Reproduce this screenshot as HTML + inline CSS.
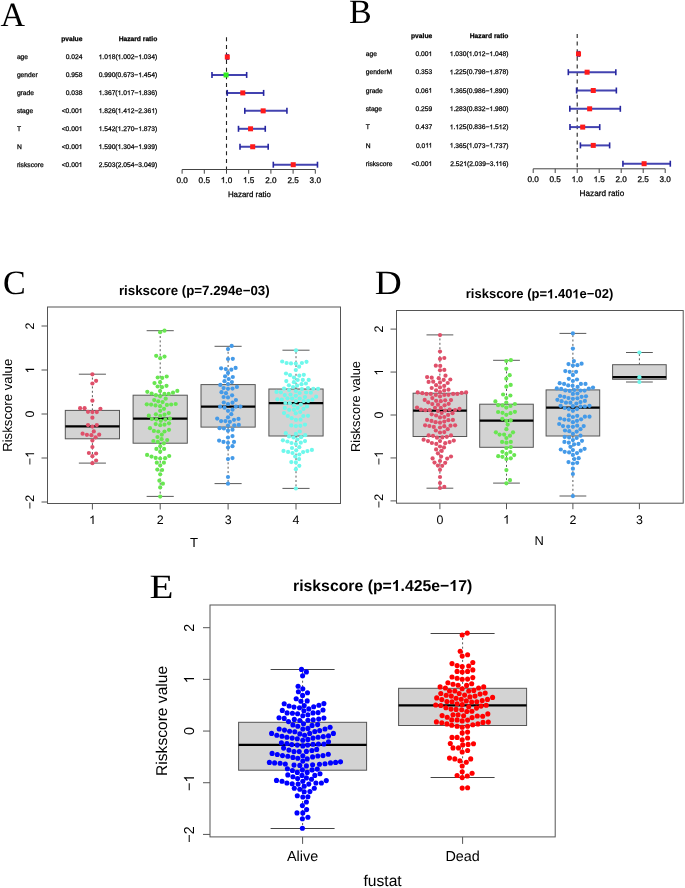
<!DOCTYPE html>
<html><head><meta charset="utf-8"><style>
html,body{margin:0;padding:0;background:#fff;}
body{width:685px;height:888px;overflow:hidden;font-family:"Liberation Sans", sans-serif;}
svg{display:block;will-change:transform;text-rendering:geometricPrecision;}
</style></head><body>
<svg width="685" height="888" viewBox="0 0 685 888">
<rect x="0" y="0" width="685" height="888" fill="#fff"/>
<text x="0.40" y="25.50" font-size="34" text-anchor="start" fill="#000" font-family='"Liberation Serif", serif'>A</text>
<text x="349.00" y="23.00" font-size="34" text-anchor="start" fill="#000" font-family='"Liberation Serif", serif'>B</text>
<text x="3.00" y="293.80" font-size="34" text-anchor="start" fill="#000" font-family='"Liberation Serif", serif'>C</text>
<text x="0" y="0" transform="translate(374.7 293.6) scale(1.10 1)" font-size="34" font-family='"Liberation Serif", serif'>D</text>
<text x="0" y="0" transform="translate(149.6 597.6) scale(1.15 1)" font-size="34" font-family='"Liberation Serif", serif'>E</text>
<text x="82.40" y="41.25" font-size="6.7" text-anchor="end" font-weight="bold" fill="#000" font-family='"Liberation Sans", sans-serif' stroke="#000" stroke-width="0.25">pvalue</text>
<text x="157.30" y="41.25" font-size="6.7" text-anchor="end" font-weight="bold" fill="#000" font-family='"Liberation Sans", sans-serif' stroke="#000" stroke-width="0.25">Hazard ratio</text>
<text x="16.90" y="59.20" font-size="6.7" text-anchor="start" fill="#000" font-family='"Liberation Sans", sans-serif' stroke="#000" stroke-width="0.25">age</text>
<text x="82.40" y="59.20" font-size="6.7" text-anchor="end" fill="#000" font-family='"Liberation Sans", sans-serif' stroke="#000" stroke-width="0.25">0.024</text>
<g>
<path transform="translate(98.63 59.20) scale(0.00327 -0.00327)" d="M763 0H583V1120Q518 1060 412 1000Q307 940 223 910V1080Q374 1150 487 1250Q600 1350 647 1440H763Z" fill="#000" stroke="#000" stroke-width="0.25" vector-effect="non-scaling-stroke"/>
<text x="102.35" y="59.20" font-size="6.7" text-anchor="start" fill="#000" font-family='"Liberation Sans", sans-serif' stroke="#000" stroke-width="0.25">.0</text>
<path transform="translate(107.94 59.20) scale(0.00327 -0.00327)" d="M763 0H583V1120Q518 1060 412 1000Q307 940 223 910V1080Q374 1150 487 1250Q600 1350 647 1440H763Z" fill="#000" stroke="#000" stroke-width="0.25" vector-effect="non-scaling-stroke"/>
<text x="111.67" y="59.20" font-size="6.7" text-anchor="start" fill="#000" font-family='"Liberation Sans", sans-serif' stroke="#000" stroke-width="0.25">8(</text>
<path transform="translate(117.62 59.20) scale(0.00327 -0.00327)" d="M763 0H583V1120Q518 1060 412 1000Q307 940 223 910V1080Q374 1150 487 1250Q600 1350 647 1440H763Z" fill="#000" stroke="#000" stroke-width="0.25" vector-effect="non-scaling-stroke"/>
<text x="121.35" y="59.20" font-size="6.7" text-anchor="start" fill="#000" font-family='"Liberation Sans", sans-serif' stroke="#000" stroke-width="0.25">.002−</text>
<path transform="translate(138.30 59.20) scale(0.00327 -0.00327)" d="M763 0H583V1120Q518 1060 412 1000Q307 940 223 910V1080Q374 1150 487 1250Q600 1350 647 1440H763Z" fill="#000" stroke="#000" stroke-width="0.25" vector-effect="non-scaling-stroke"/>
<text x="142.03" y="59.20" font-size="6.7" text-anchor="start" fill="#000" font-family='"Liberation Sans", sans-serif' stroke="#000" stroke-width="0.25">.034)</text>
</g>
<text x="16.90" y="77.15" font-size="6.7" text-anchor="start" fill="#000" font-family='"Liberation Sans", sans-serif' stroke="#000" stroke-width="0.25">gender</text>
<text x="82.40" y="77.15" font-size="6.7" text-anchor="end" fill="#000" font-family='"Liberation Sans", sans-serif' stroke="#000" stroke-width="0.25">0.958</text>
<g>
<text x="98.63" y="77.15" font-size="6.7" text-anchor="start" fill="#000" font-family='"Liberation Sans", sans-serif' stroke="#000" stroke-width="0.25">0.990(0.673−</text>
<path transform="translate(138.30 77.15) scale(0.00327 -0.00327)" d="M763 0H583V1120Q518 1060 412 1000Q307 940 223 910V1080Q374 1150 487 1250Q600 1350 647 1440H763Z" fill="#000" stroke="#000" stroke-width="0.25" vector-effect="non-scaling-stroke"/>
<text x="142.03" y="77.15" font-size="6.7" text-anchor="start" fill="#000" font-family='"Liberation Sans", sans-serif' stroke="#000" stroke-width="0.25">.454)</text>
</g>
<text x="16.90" y="95.10" font-size="6.7" text-anchor="start" fill="#000" font-family='"Liberation Sans", sans-serif' stroke="#000" stroke-width="0.25">grade</text>
<text x="82.40" y="95.10" font-size="6.7" text-anchor="end" fill="#000" font-family='"Liberation Sans", sans-serif' stroke="#000" stroke-width="0.25">0.038</text>
<g>
<path transform="translate(98.63 95.10) scale(0.00327 -0.00327)" d="M763 0H583V1120Q518 1060 412 1000Q307 940 223 910V1080Q374 1150 487 1250Q600 1350 647 1440H763Z" fill="#000" stroke="#000" stroke-width="0.25" vector-effect="non-scaling-stroke"/>
<text x="102.35" y="95.10" font-size="6.7" text-anchor="start" fill="#000" font-family='"Liberation Sans", sans-serif' stroke="#000" stroke-width="0.25">.367(</text>
<path transform="translate(117.62 95.10) scale(0.00327 -0.00327)" d="M763 0H583V1120Q518 1060 412 1000Q307 940 223 910V1080Q374 1150 487 1250Q600 1350 647 1440H763Z" fill="#000" stroke="#000" stroke-width="0.25" vector-effect="non-scaling-stroke"/>
<text x="121.35" y="95.10" font-size="6.7" text-anchor="start" fill="#000" font-family='"Liberation Sans", sans-serif' stroke="#000" stroke-width="0.25">.0</text>
<path transform="translate(126.94 95.10) scale(0.00327 -0.00327)" d="M763 0H583V1120Q518 1060 412 1000Q307 940 223 910V1080Q374 1150 487 1250Q600 1350 647 1440H763Z" fill="#000" stroke="#000" stroke-width="0.25" vector-effect="non-scaling-stroke"/>
<text x="130.66" y="95.10" font-size="6.7" text-anchor="start" fill="#000" font-family='"Liberation Sans", sans-serif' stroke="#000" stroke-width="0.25">7−</text>
<path transform="translate(138.30 95.10) scale(0.00327 -0.00327)" d="M763 0H583V1120Q518 1060 412 1000Q307 940 223 910V1080Q374 1150 487 1250Q600 1350 647 1440H763Z" fill="#000" stroke="#000" stroke-width="0.25" vector-effect="non-scaling-stroke"/>
<text x="142.03" y="95.10" font-size="6.7" text-anchor="start" fill="#000" font-family='"Liberation Sans", sans-serif' stroke="#000" stroke-width="0.25">.836)</text>
</g>
<text x="16.90" y="113.05" font-size="6.7" text-anchor="start" fill="#000" font-family='"Liberation Sans", sans-serif' stroke="#000" stroke-width="0.25">stage</text>
<g>
<text x="61.72" y="113.05" font-size="6.7" text-anchor="start" fill="#000" font-family='"Liberation Sans", sans-serif' stroke="#000" stroke-width="0.25">&lt;0.00</text>
<path transform="translate(78.67 113.05) scale(0.00327 -0.00327)" d="M763 0H583V1120Q518 1060 412 1000Q307 940 223 910V1080Q374 1150 487 1250Q600 1350 647 1440H763Z" fill="#000" stroke="#000" stroke-width="0.25" vector-effect="non-scaling-stroke"/>
</g>
<g>
<path transform="translate(98.63 113.05) scale(0.00327 -0.00327)" d="M763 0H583V1120Q518 1060 412 1000Q307 940 223 910V1080Q374 1150 487 1250Q600 1350 647 1440H763Z" fill="#000" stroke="#000" stroke-width="0.25" vector-effect="non-scaling-stroke"/>
<text x="102.35" y="113.05" font-size="6.7" text-anchor="start" fill="#000" font-family='"Liberation Sans", sans-serif' stroke="#000" stroke-width="0.25">.826(</text>
<path transform="translate(117.62 113.05) scale(0.00327 -0.00327)" d="M763 0H583V1120Q518 1060 412 1000Q307 940 223 910V1080Q374 1150 487 1250Q600 1350 647 1440H763Z" fill="#000" stroke="#000" stroke-width="0.25" vector-effect="non-scaling-stroke"/>
<text x="121.35" y="113.05" font-size="6.7" text-anchor="start" fill="#000" font-family='"Liberation Sans", sans-serif' stroke="#000" stroke-width="0.25">.4</text>
<path transform="translate(126.94 113.05) scale(0.00327 -0.00327)" d="M763 0H583V1120Q518 1060 412 1000Q307 940 223 910V1080Q374 1150 487 1250Q600 1350 647 1440H763Z" fill="#000" stroke="#000" stroke-width="0.25" vector-effect="non-scaling-stroke"/>
<text x="130.66" y="113.05" font-size="6.7" text-anchor="start" fill="#000" font-family='"Liberation Sans", sans-serif' stroke="#000" stroke-width="0.25">2−2.36</text>
<path transform="translate(151.34 113.05) scale(0.00327 -0.00327)" d="M763 0H583V1120Q518 1060 412 1000Q307 940 223 910V1080Q374 1150 487 1250Q600 1350 647 1440H763Z" fill="#000" stroke="#000" stroke-width="0.25" vector-effect="non-scaling-stroke"/>
<text x="155.07" y="113.05" font-size="6.7" text-anchor="start" fill="#000" font-family='"Liberation Sans", sans-serif' stroke="#000" stroke-width="0.25">)</text>
</g>
<text x="16.90" y="131.00" font-size="6.7" text-anchor="start" fill="#000" font-family='"Liberation Sans", sans-serif' stroke="#000" stroke-width="0.25">T</text>
<g>
<text x="61.72" y="131.00" font-size="6.7" text-anchor="start" fill="#000" font-family='"Liberation Sans", sans-serif' stroke="#000" stroke-width="0.25">&lt;0.00</text>
<path transform="translate(78.67 131.00) scale(0.00327 -0.00327)" d="M763 0H583V1120Q518 1060 412 1000Q307 940 223 910V1080Q374 1150 487 1250Q600 1350 647 1440H763Z" fill="#000" stroke="#000" stroke-width="0.25" vector-effect="non-scaling-stroke"/>
</g>
<g>
<path transform="translate(98.63 131.00) scale(0.00327 -0.00327)" d="M763 0H583V1120Q518 1060 412 1000Q307 940 223 910V1080Q374 1150 487 1250Q600 1350 647 1440H763Z" fill="#000" stroke="#000" stroke-width="0.25" vector-effect="non-scaling-stroke"/>
<text x="102.35" y="131.00" font-size="6.7" text-anchor="start" fill="#000" font-family='"Liberation Sans", sans-serif' stroke="#000" stroke-width="0.25">.542(</text>
<path transform="translate(117.62 131.00) scale(0.00327 -0.00327)" d="M763 0H583V1120Q518 1060 412 1000Q307 940 223 910V1080Q374 1150 487 1250Q600 1350 647 1440H763Z" fill="#000" stroke="#000" stroke-width="0.25" vector-effect="non-scaling-stroke"/>
<text x="121.35" y="131.00" font-size="6.7" text-anchor="start" fill="#000" font-family='"Liberation Sans", sans-serif' stroke="#000" stroke-width="0.25">.270−</text>
<path transform="translate(138.30 131.00) scale(0.00327 -0.00327)" d="M763 0H583V1120Q518 1060 412 1000Q307 940 223 910V1080Q374 1150 487 1250Q600 1350 647 1440H763Z" fill="#000" stroke="#000" stroke-width="0.25" vector-effect="non-scaling-stroke"/>
<text x="142.03" y="131.00" font-size="6.7" text-anchor="start" fill="#000" font-family='"Liberation Sans", sans-serif' stroke="#000" stroke-width="0.25">.873)</text>
</g>
<text x="16.90" y="148.95" font-size="6.7" text-anchor="start" fill="#000" font-family='"Liberation Sans", sans-serif' stroke="#000" stroke-width="0.25">N</text>
<g>
<text x="61.72" y="148.95" font-size="6.7" text-anchor="start" fill="#000" font-family='"Liberation Sans", sans-serif' stroke="#000" stroke-width="0.25">&lt;0.00</text>
<path transform="translate(78.67 148.95) scale(0.00327 -0.00327)" d="M763 0H583V1120Q518 1060 412 1000Q307 940 223 910V1080Q374 1150 487 1250Q600 1350 647 1440H763Z" fill="#000" stroke="#000" stroke-width="0.25" vector-effect="non-scaling-stroke"/>
</g>
<g>
<path transform="translate(98.63 148.95) scale(0.00327 -0.00327)" d="M763 0H583V1120Q518 1060 412 1000Q307 940 223 910V1080Q374 1150 487 1250Q600 1350 647 1440H763Z" fill="#000" stroke="#000" stroke-width="0.25" vector-effect="non-scaling-stroke"/>
<text x="102.35" y="148.95" font-size="6.7" text-anchor="start" fill="#000" font-family='"Liberation Sans", sans-serif' stroke="#000" stroke-width="0.25">.590(</text>
<path transform="translate(117.62 148.95) scale(0.00327 -0.00327)" d="M763 0H583V1120Q518 1060 412 1000Q307 940 223 910V1080Q374 1150 487 1250Q600 1350 647 1440H763Z" fill="#000" stroke="#000" stroke-width="0.25" vector-effect="non-scaling-stroke"/>
<text x="121.35" y="148.95" font-size="6.7" text-anchor="start" fill="#000" font-family='"Liberation Sans", sans-serif' stroke="#000" stroke-width="0.25">.304−</text>
<path transform="translate(138.30 148.95) scale(0.00327 -0.00327)" d="M763 0H583V1120Q518 1060 412 1000Q307 940 223 910V1080Q374 1150 487 1250Q600 1350 647 1440H763Z" fill="#000" stroke="#000" stroke-width="0.25" vector-effect="non-scaling-stroke"/>
<text x="142.03" y="148.95" font-size="6.7" text-anchor="start" fill="#000" font-family='"Liberation Sans", sans-serif' stroke="#000" stroke-width="0.25">.939)</text>
</g>
<text x="16.90" y="166.90" font-size="6.7" text-anchor="start" fill="#000" font-family='"Liberation Sans", sans-serif' stroke="#000" stroke-width="0.25">riskscore</text>
<g>
<text x="61.72" y="166.90" font-size="6.7" text-anchor="start" fill="#000" font-family='"Liberation Sans", sans-serif' stroke="#000" stroke-width="0.25">&lt;0.00</text>
<path transform="translate(78.67 166.90) scale(0.00327 -0.00327)" d="M763 0H583V1120Q518 1060 412 1000Q307 940 223 910V1080Q374 1150 487 1250Q600 1350 647 1440H763Z" fill="#000" stroke="#000" stroke-width="0.25" vector-effect="non-scaling-stroke"/>
</g>
<text x="157.30" y="166.90" font-size="6.7" text-anchor="end" fill="#000" font-family='"Liberation Sans", sans-serif' stroke="#000" stroke-width="0.25">2.503(2.054−3.049)</text>
<line x1="226.50" y1="37.30" x2="226.50" y2="169.50" stroke="#222" stroke-width="1.1" stroke-dasharray="4,3.6" stroke-linecap="butt"/>
<line x1="226.59" y1="57.00" x2="228.01" y2="57.00" stroke="#4343b0" stroke-width="2" stroke-linecap="butt"/>
<line x1="226.59" y1="54.00" x2="226.59" y2="60.00" stroke="#2626a0" stroke-width="1.6" stroke-linecap="butt"/>
<line x1="228.01" y1="54.00" x2="228.01" y2="60.00" stroke="#2626a0" stroke-width="1.6" stroke-linecap="butt"/>
<rect x="224.80" y="54.50" width="5.00" height="5.00" fill="#ff1a1a" stroke="none" stroke-width="1"/>
<line x1="211.98" y1="74.95" x2="246.66" y2="74.95" stroke="#4343b0" stroke-width="2" stroke-linecap="butt"/>
<line x1="211.98" y1="71.95" x2="211.98" y2="77.95" stroke="#2626a0" stroke-width="1.6" stroke-linecap="butt"/>
<line x1="246.66" y1="71.95" x2="246.66" y2="77.95" stroke="#2626a0" stroke-width="1.6" stroke-linecap="butt"/>
<rect x="223.56" y="72.45" width="5.00" height="5.00" fill="#33ee22" stroke="none" stroke-width="1"/>
<line x1="227.25" y1="92.90" x2="263.62" y2="92.90" stroke="#4343b0" stroke-width="2" stroke-linecap="butt"/>
<line x1="227.25" y1="89.90" x2="227.25" y2="95.90" stroke="#2626a0" stroke-width="1.6" stroke-linecap="butt"/>
<line x1="263.62" y1="89.90" x2="263.62" y2="95.90" stroke="#2626a0" stroke-width="1.6" stroke-linecap="butt"/>
<rect x="240.29" y="90.40" width="5.00" height="5.00" fill="#ff1a1a" stroke="none" stroke-width="1"/>
<line x1="244.79" y1="110.85" x2="286.93" y2="110.85" stroke="#4343b0" stroke-width="2" stroke-linecap="butt"/>
<line x1="244.79" y1="107.85" x2="244.79" y2="113.85" stroke="#2626a0" stroke-width="1.6" stroke-linecap="butt"/>
<line x1="286.93" y1="107.85" x2="286.93" y2="113.85" stroke="#2626a0" stroke-width="1.6" stroke-linecap="butt"/>
<rect x="260.67" y="108.35" width="5.00" height="5.00" fill="#ff1a1a" stroke="none" stroke-width="1"/>
<line x1="238.49" y1="128.80" x2="265.26" y2="128.80" stroke="#4343b0" stroke-width="2" stroke-linecap="butt"/>
<line x1="238.49" y1="125.80" x2="238.49" y2="131.80" stroke="#2626a0" stroke-width="1.6" stroke-linecap="butt"/>
<line x1="265.26" y1="125.80" x2="265.26" y2="131.80" stroke="#2626a0" stroke-width="1.6" stroke-linecap="butt"/>
<rect x="248.06" y="126.30" width="5.00" height="5.00" fill="#ff1a1a" stroke="none" stroke-width="1"/>
<line x1="240.00" y1="146.75" x2="268.19" y2="146.75" stroke="#4343b0" stroke-width="2" stroke-linecap="butt"/>
<line x1="240.00" y1="143.75" x2="240.00" y2="149.75" stroke="#2626a0" stroke-width="1.6" stroke-linecap="butt"/>
<line x1="268.19" y1="143.75" x2="268.19" y2="149.75" stroke="#2626a0" stroke-width="1.6" stroke-linecap="butt"/>
<rect x="250.20" y="144.25" width="5.00" height="5.00" fill="#ff1a1a" stroke="none" stroke-width="1"/>
<line x1="273.30" y1="164.70" x2="317.48" y2="164.70" stroke="#4343b0" stroke-width="2" stroke-linecap="butt"/>
<line x1="273.30" y1="161.70" x2="273.30" y2="167.70" stroke="#2626a0" stroke-width="1.6" stroke-linecap="butt"/>
<line x1="317.48" y1="161.70" x2="317.48" y2="167.70" stroke="#2626a0" stroke-width="1.6" stroke-linecap="butt"/>
<rect x="290.73" y="162.20" width="5.00" height="5.00" fill="#ff1a1a" stroke="none" stroke-width="1"/>
<line x1="182.10" y1="169.50" x2="315.30" y2="169.50" stroke="#444" stroke-width="1" stroke-linecap="butt"/>
<line x1="182.10" y1="169.50" x2="182.10" y2="173.70" stroke="#444" stroke-width="1" stroke-linecap="butt"/>
<text x="182.10" y="182.80" font-size="8.2" text-anchor="middle" fill="#000" font-family='"Liberation Sans", sans-serif' stroke="#000" stroke-width="0.25">0.0</text>
<line x1="204.30" y1="169.50" x2="204.30" y2="173.70" stroke="#444" stroke-width="1" stroke-linecap="butt"/>
<text x="204.30" y="182.80" font-size="8.2" text-anchor="middle" fill="#000" font-family='"Liberation Sans", sans-serif' stroke="#000" stroke-width="0.25">0.5</text>
<line x1="226.50" y1="169.50" x2="226.50" y2="173.70" stroke="#444" stroke-width="1" stroke-linecap="butt"/>
<g>
<path transform="translate(220.80 182.80) scale(0.00400 -0.00400)" d="M763 0H583V1120Q518 1060 412 1000Q307 940 223 910V1080Q374 1150 487 1250Q600 1350 647 1440H763Z" fill="#000" stroke="#000" stroke-width="0.25" vector-effect="non-scaling-stroke"/>
<text x="225.36" y="182.80" font-size="8.2" text-anchor="start" fill="#000" font-family='"Liberation Sans", sans-serif' stroke="#000" stroke-width="0.25">.0</text>
</g>
<line x1="248.70" y1="169.50" x2="248.70" y2="173.70" stroke="#444" stroke-width="1" stroke-linecap="butt"/>
<g>
<path transform="translate(243.00 182.80) scale(0.00400 -0.00400)" d="M763 0H583V1120Q518 1060 412 1000Q307 940 223 910V1080Q374 1150 487 1250Q600 1350 647 1440H763Z" fill="#000" stroke="#000" stroke-width="0.25" vector-effect="non-scaling-stroke"/>
<text x="247.56" y="182.80" font-size="8.2" text-anchor="start" fill="#000" font-family='"Liberation Sans", sans-serif' stroke="#000" stroke-width="0.25">.5</text>
</g>
<line x1="270.90" y1="169.50" x2="270.90" y2="173.70" stroke="#444" stroke-width="1" stroke-linecap="butt"/>
<text x="270.90" y="182.80" font-size="8.2" text-anchor="middle" fill="#000" font-family='"Liberation Sans", sans-serif' stroke="#000" stroke-width="0.25">2.0</text>
<line x1="293.10" y1="169.50" x2="293.10" y2="173.70" stroke="#444" stroke-width="1" stroke-linecap="butt"/>
<text x="293.10" y="182.80" font-size="8.2" text-anchor="middle" fill="#000" font-family='"Liberation Sans", sans-serif' stroke="#000" stroke-width="0.25">2.5</text>
<line x1="315.30" y1="169.50" x2="315.30" y2="173.70" stroke="#444" stroke-width="1" stroke-linecap="butt"/>
<text x="315.30" y="182.80" font-size="8.2" text-anchor="middle" fill="#000" font-family='"Liberation Sans", sans-serif' stroke="#000" stroke-width="0.25">3.0</text>
<text x="249.40" y="196.60" font-size="7.9" text-anchor="middle" fill="#000" font-family='"Liberation Sans", sans-serif' stroke="#000" stroke-width="0.25">Hazard ratio</text>
<text x="432.20" y="37.80" font-size="6.7" text-anchor="end" font-weight="bold" fill="#000" font-family='"Liberation Sans", sans-serif' stroke="#000" stroke-width="0.25">pvalue</text>
<text x="508.40" y="37.80" font-size="6.7" text-anchor="end" font-weight="bold" fill="#000" font-family='"Liberation Sans", sans-serif' stroke="#000" stroke-width="0.25">Hazard ratio</text>
<text x="365.70" y="56.10" font-size="6.7" text-anchor="start" fill="#000" font-family='"Liberation Sans", sans-serif' stroke="#000" stroke-width="0.25">age</text>
<g>
<text x="415.43" y="56.10" font-size="6.7" text-anchor="start" fill="#000" font-family='"Liberation Sans", sans-serif' stroke="#000" stroke-width="0.25">0.00</text>
<path transform="translate(428.47 56.10) scale(0.00327 -0.00327)" d="M763 0H583V1120Q518 1060 412 1000Q307 940 223 910V1080Q374 1150 487 1250Q600 1350 647 1440H763Z" fill="#000" stroke="#000" stroke-width="0.25" vector-effect="non-scaling-stroke"/>
</g>
<g>
<path transform="translate(449.73 56.10) scale(0.00327 -0.00327)" d="M763 0H583V1120Q518 1060 412 1000Q307 940 223 910V1080Q374 1150 487 1250Q600 1350 647 1440H763Z" fill="#000" stroke="#000" stroke-width="0.25" vector-effect="non-scaling-stroke"/>
<text x="453.45" y="56.10" font-size="6.7" text-anchor="start" fill="#000" font-family='"Liberation Sans", sans-serif' stroke="#000" stroke-width="0.25">.030(</text>
<path transform="translate(468.72 56.10) scale(0.00327 -0.00327)" d="M763 0H583V1120Q518 1060 412 1000Q307 940 223 910V1080Q374 1150 487 1250Q600 1350 647 1440H763Z" fill="#000" stroke="#000" stroke-width="0.25" vector-effect="non-scaling-stroke"/>
<text x="472.45" y="56.10" font-size="6.7" text-anchor="start" fill="#000" font-family='"Liberation Sans", sans-serif' stroke="#000" stroke-width="0.25">.0</text>
<path transform="translate(478.04 56.10) scale(0.00327 -0.00327)" d="M763 0H583V1120Q518 1060 412 1000Q307 940 223 910V1080Q374 1150 487 1250Q600 1350 647 1440H763Z" fill="#000" stroke="#000" stroke-width="0.25" vector-effect="non-scaling-stroke"/>
<text x="481.76" y="56.10" font-size="6.7" text-anchor="start" fill="#000" font-family='"Liberation Sans", sans-serif' stroke="#000" stroke-width="0.25">2−</text>
<path transform="translate(489.40 56.10) scale(0.00327 -0.00327)" d="M763 0H583V1120Q518 1060 412 1000Q307 940 223 910V1080Q374 1150 487 1250Q600 1350 647 1440H763Z" fill="#000" stroke="#000" stroke-width="0.25" vector-effect="non-scaling-stroke"/>
<text x="493.13" y="56.10" font-size="6.7" text-anchor="start" fill="#000" font-family='"Liberation Sans", sans-serif' stroke="#000" stroke-width="0.25">.048)</text>
</g>
<text x="365.70" y="74.40" font-size="6.7" text-anchor="start" fill="#000" font-family='"Liberation Sans", sans-serif' stroke="#000" stroke-width="0.25">genderM</text>
<text x="432.20" y="74.40" font-size="6.7" text-anchor="end" fill="#000" font-family='"Liberation Sans", sans-serif' stroke="#000" stroke-width="0.25">0.353</text>
<g>
<path transform="translate(449.73 74.40) scale(0.00327 -0.00327)" d="M763 0H583V1120Q518 1060 412 1000Q307 940 223 910V1080Q374 1150 487 1250Q600 1350 647 1440H763Z" fill="#000" stroke="#000" stroke-width="0.25" vector-effect="non-scaling-stroke"/>
<text x="453.45" y="74.40" font-size="6.7" text-anchor="start" fill="#000" font-family='"Liberation Sans", sans-serif' stroke="#000" stroke-width="0.25">.225(0.798−</text>
<path transform="translate(489.40 74.40) scale(0.00327 -0.00327)" d="M763 0H583V1120Q518 1060 412 1000Q307 940 223 910V1080Q374 1150 487 1250Q600 1350 647 1440H763Z" fill="#000" stroke="#000" stroke-width="0.25" vector-effect="non-scaling-stroke"/>
<text x="493.13" y="74.40" font-size="6.7" text-anchor="start" fill="#000" font-family='"Liberation Sans", sans-serif' stroke="#000" stroke-width="0.25">.878)</text>
</g>
<text x="365.70" y="92.70" font-size="6.7" text-anchor="start" fill="#000" font-family='"Liberation Sans", sans-serif' stroke="#000" stroke-width="0.25">grade</text>
<g>
<text x="415.43" y="92.70" font-size="6.7" text-anchor="start" fill="#000" font-family='"Liberation Sans", sans-serif' stroke="#000" stroke-width="0.25">0.06</text>
<path transform="translate(428.47 92.70) scale(0.00327 -0.00327)" d="M763 0H583V1120Q518 1060 412 1000Q307 940 223 910V1080Q374 1150 487 1250Q600 1350 647 1440H763Z" fill="#000" stroke="#000" stroke-width="0.25" vector-effect="non-scaling-stroke"/>
</g>
<g>
<path transform="translate(449.73 92.70) scale(0.00327 -0.00327)" d="M763 0H583V1120Q518 1060 412 1000Q307 940 223 910V1080Q374 1150 487 1250Q600 1350 647 1440H763Z" fill="#000" stroke="#000" stroke-width="0.25" vector-effect="non-scaling-stroke"/>
<text x="453.45" y="92.70" font-size="6.7" text-anchor="start" fill="#000" font-family='"Liberation Sans", sans-serif' stroke="#000" stroke-width="0.25">.365(0.986−</text>
<path transform="translate(489.40 92.70) scale(0.00327 -0.00327)" d="M763 0H583V1120Q518 1060 412 1000Q307 940 223 910V1080Q374 1150 487 1250Q600 1350 647 1440H763Z" fill="#000" stroke="#000" stroke-width="0.25" vector-effect="non-scaling-stroke"/>
<text x="493.13" y="92.70" font-size="6.7" text-anchor="start" fill="#000" font-family='"Liberation Sans", sans-serif' stroke="#000" stroke-width="0.25">.890)</text>
</g>
<text x="365.70" y="111.00" font-size="6.7" text-anchor="start" fill="#000" font-family='"Liberation Sans", sans-serif' stroke="#000" stroke-width="0.25">stage</text>
<text x="432.20" y="111.00" font-size="6.7" text-anchor="end" fill="#000" font-family='"Liberation Sans", sans-serif' stroke="#000" stroke-width="0.25">0.259</text>
<g>
<path transform="translate(449.73 111.00) scale(0.00327 -0.00327)" d="M763 0H583V1120Q518 1060 412 1000Q307 940 223 910V1080Q374 1150 487 1250Q600 1350 647 1440H763Z" fill="#000" stroke="#000" stroke-width="0.25" vector-effect="non-scaling-stroke"/>
<text x="453.45" y="111.00" font-size="6.7" text-anchor="start" fill="#000" font-family='"Liberation Sans", sans-serif' stroke="#000" stroke-width="0.25">.283(0.832−</text>
<path transform="translate(489.40 111.00) scale(0.00327 -0.00327)" d="M763 0H583V1120Q518 1060 412 1000Q307 940 223 910V1080Q374 1150 487 1250Q600 1350 647 1440H763Z" fill="#000" stroke="#000" stroke-width="0.25" vector-effect="non-scaling-stroke"/>
<text x="493.13" y="111.00" font-size="6.7" text-anchor="start" fill="#000" font-family='"Liberation Sans", sans-serif' stroke="#000" stroke-width="0.25">.980)</text>
</g>
<text x="365.70" y="129.30" font-size="6.7" text-anchor="start" fill="#000" font-family='"Liberation Sans", sans-serif' stroke="#000" stroke-width="0.25">T</text>
<text x="432.20" y="129.30" font-size="6.7" text-anchor="end" fill="#000" font-family='"Liberation Sans", sans-serif' stroke="#000" stroke-width="0.25">0.437</text>
<g>
<path transform="translate(449.73 129.30) scale(0.00327 -0.00327)" d="M763 0H583V1120Q518 1060 412 1000Q307 940 223 910V1080Q374 1150 487 1250Q600 1350 647 1440H763Z" fill="#000" stroke="#000" stroke-width="0.25" vector-effect="non-scaling-stroke"/>
<text x="453.45" y="129.30" font-size="6.7" text-anchor="start" fill="#000" font-family='"Liberation Sans", sans-serif' stroke="#000" stroke-width="0.25">.</text>
<path transform="translate(455.31 129.30) scale(0.00327 -0.00327)" d="M763 0H583V1120Q518 1060 412 1000Q307 940 223 910V1080Q374 1150 487 1250Q600 1350 647 1440H763Z" fill="#000" stroke="#000" stroke-width="0.25" vector-effect="non-scaling-stroke"/>
<text x="459.04" y="129.30" font-size="6.7" text-anchor="start" fill="#000" font-family='"Liberation Sans", sans-serif' stroke="#000" stroke-width="0.25">25(0.836−</text>
<path transform="translate(489.40 129.30) scale(0.00327 -0.00327)" d="M763 0H583V1120Q518 1060 412 1000Q307 940 223 910V1080Q374 1150 487 1250Q600 1350 647 1440H763Z" fill="#000" stroke="#000" stroke-width="0.25" vector-effect="non-scaling-stroke"/>
<text x="493.13" y="129.30" font-size="6.7" text-anchor="start" fill="#000" font-family='"Liberation Sans", sans-serif' stroke="#000" stroke-width="0.25">.5</text>
<path transform="translate(498.72 129.30) scale(0.00327 -0.00327)" d="M763 0H583V1120Q518 1060 412 1000Q307 940 223 910V1080Q374 1150 487 1250Q600 1350 647 1440H763Z" fill="#000" stroke="#000" stroke-width="0.25" vector-effect="non-scaling-stroke"/>
<text x="502.44" y="129.30" font-size="6.7" text-anchor="start" fill="#000" font-family='"Liberation Sans", sans-serif' stroke="#000" stroke-width="0.25">2)</text>
</g>
<text x="365.70" y="147.60" font-size="6.7" text-anchor="start" fill="#000" font-family='"Liberation Sans", sans-serif' stroke="#000" stroke-width="0.25">N</text>
<g>
<text x="415.93" y="147.60" font-size="6.7" text-anchor="start" fill="#000" font-family='"Liberation Sans", sans-serif' stroke="#000" stroke-width="0.25">0.0</text>
<path transform="translate(425.24 147.60) scale(0.00327 -0.00327)" d="M763 0H583V1120Q518 1060 412 1000Q307 940 223 910V1080Q374 1150 487 1250Q600 1350 647 1440H763Z" fill="#000" stroke="#000" stroke-width="0.25" vector-effect="non-scaling-stroke"/>
<path transform="translate(428.47 147.60) scale(0.00327 -0.00327)" d="M763 0H583V1120Q518 1060 412 1000Q307 940 223 910V1080Q374 1150 487 1250Q600 1350 647 1440H763Z" fill="#000" stroke="#000" stroke-width="0.25" vector-effect="non-scaling-stroke"/>
</g>
<g>
<path transform="translate(449.73 147.60) scale(0.00327 -0.00327)" d="M763 0H583V1120Q518 1060 412 1000Q307 940 223 910V1080Q374 1150 487 1250Q600 1350 647 1440H763Z" fill="#000" stroke="#000" stroke-width="0.25" vector-effect="non-scaling-stroke"/>
<text x="453.45" y="147.60" font-size="6.7" text-anchor="start" fill="#000" font-family='"Liberation Sans", sans-serif' stroke="#000" stroke-width="0.25">.365(</text>
<path transform="translate(468.72 147.60) scale(0.00327 -0.00327)" d="M763 0H583V1120Q518 1060 412 1000Q307 940 223 910V1080Q374 1150 487 1250Q600 1350 647 1440H763Z" fill="#000" stroke="#000" stroke-width="0.25" vector-effect="non-scaling-stroke"/>
<text x="472.45" y="147.60" font-size="6.7" text-anchor="start" fill="#000" font-family='"Liberation Sans", sans-serif' stroke="#000" stroke-width="0.25">.073−</text>
<path transform="translate(489.40 147.60) scale(0.00327 -0.00327)" d="M763 0H583V1120Q518 1060 412 1000Q307 940 223 910V1080Q374 1150 487 1250Q600 1350 647 1440H763Z" fill="#000" stroke="#000" stroke-width="0.25" vector-effect="non-scaling-stroke"/>
<text x="493.13" y="147.60" font-size="6.7" text-anchor="start" fill="#000" font-family='"Liberation Sans", sans-serif' stroke="#000" stroke-width="0.25">.737)</text>
</g>
<text x="365.70" y="165.90" font-size="6.7" text-anchor="start" fill="#000" font-family='"Liberation Sans", sans-serif' stroke="#000" stroke-width="0.25">riskscore</text>
<g>
<text x="411.52" y="165.90" font-size="6.7" text-anchor="start" fill="#000" font-family='"Liberation Sans", sans-serif' stroke="#000" stroke-width="0.25">&lt;0.00</text>
<path transform="translate(428.47 165.90) scale(0.00327 -0.00327)" d="M763 0H583V1120Q518 1060 412 1000Q307 940 223 910V1080Q374 1150 487 1250Q600 1350 647 1440H763Z" fill="#000" stroke="#000" stroke-width="0.25" vector-effect="non-scaling-stroke"/>
</g>
<g>
<text x="450.22" y="165.90" font-size="6.7" text-anchor="start" fill="#000" font-family='"Liberation Sans", sans-serif' stroke="#000" stroke-width="0.25">2.52</text>
<path transform="translate(463.26 165.90) scale(0.00327 -0.00327)" d="M763 0H583V1120Q518 1060 412 1000Q307 940 223 910V1080Q374 1150 487 1250Q600 1350 647 1440H763Z" fill="#000" stroke="#000" stroke-width="0.25" vector-effect="non-scaling-stroke"/>
<text x="466.99" y="165.90" font-size="6.7" text-anchor="start" fill="#000" font-family='"Liberation Sans", sans-serif' stroke="#000" stroke-width="0.25">(2.039−3.</text>
<path transform="translate(495.49 165.90) scale(0.00327 -0.00327)" d="M763 0H583V1120Q518 1060 412 1000Q307 940 223 910V1080Q374 1150 487 1250Q600 1350 647 1440H763Z" fill="#000" stroke="#000" stroke-width="0.25" vector-effect="non-scaling-stroke"/>
<path transform="translate(498.72 165.90) scale(0.00327 -0.00327)" d="M763 0H583V1120Q518 1060 412 1000Q307 940 223 910V1080Q374 1150 487 1250Q600 1350 647 1440H763Z" fill="#000" stroke="#000" stroke-width="0.25" vector-effect="non-scaling-stroke"/>
<text x="502.44" y="165.90" font-size="6.7" text-anchor="start" fill="#000" font-family='"Liberation Sans", sans-serif' stroke="#000" stroke-width="0.25">6)</text>
</g>
<line x1="577.20" y1="34.00" x2="577.20" y2="168.80" stroke="#222" stroke-width="1.1" stroke-dasharray="4,3.6" stroke-linecap="butt"/>
<line x1="577.73" y1="53.90" x2="579.31" y2="53.90" stroke="#4343b0" stroke-width="2" stroke-linecap="butt"/>
<line x1="577.73" y1="50.90" x2="577.73" y2="56.90" stroke="#2626a0" stroke-width="1.6" stroke-linecap="butt"/>
<line x1="579.31" y1="50.90" x2="579.31" y2="56.90" stroke="#2626a0" stroke-width="1.6" stroke-linecap="butt"/>
<rect x="576.02" y="51.40" width="5.00" height="5.00" fill="#ff1a1a" stroke="none" stroke-width="1"/>
<line x1="568.31" y1="72.20" x2="615.83" y2="72.20" stroke="#4343b0" stroke-width="2" stroke-linecap="butt"/>
<line x1="568.31" y1="69.20" x2="568.31" y2="75.20" stroke="#2626a0" stroke-width="1.6" stroke-linecap="butt"/>
<line x1="615.83" y1="69.20" x2="615.83" y2="75.20" stroke="#2626a0" stroke-width="1.6" stroke-linecap="butt"/>
<rect x="584.60" y="69.70" width="5.00" height="5.00" fill="#ff1a1a" stroke="none" stroke-width="1"/>
<line x1="576.58" y1="90.50" x2="616.36" y2="90.50" stroke="#4343b0" stroke-width="2" stroke-linecap="butt"/>
<line x1="576.58" y1="87.50" x2="576.58" y2="93.50" stroke="#2626a0" stroke-width="1.6" stroke-linecap="butt"/>
<line x1="616.36" y1="87.50" x2="616.36" y2="93.50" stroke="#2626a0" stroke-width="1.6" stroke-linecap="butt"/>
<rect x="590.76" y="88.00" width="5.00" height="5.00" fill="#ff1a1a" stroke="none" stroke-width="1"/>
<line x1="569.81" y1="108.80" x2="620.32" y2="108.80" stroke="#4343b0" stroke-width="2" stroke-linecap="butt"/>
<line x1="569.81" y1="105.80" x2="569.81" y2="111.80" stroke="#2626a0" stroke-width="1.6" stroke-linecap="butt"/>
<line x1="620.32" y1="105.80" x2="620.32" y2="111.80" stroke="#2626a0" stroke-width="1.6" stroke-linecap="butt"/>
<rect x="587.15" y="106.30" width="5.00" height="5.00" fill="#ff1a1a" stroke="none" stroke-width="1"/>
<line x1="569.98" y1="127.10" x2="599.73" y2="127.10" stroke="#4343b0" stroke-width="2" stroke-linecap="butt"/>
<line x1="569.98" y1="124.10" x2="569.98" y2="130.10" stroke="#2626a0" stroke-width="1.6" stroke-linecap="butt"/>
<line x1="599.73" y1="124.10" x2="599.73" y2="130.10" stroke="#2626a0" stroke-width="1.6" stroke-linecap="butt"/>
<rect x="580.20" y="124.60" width="5.00" height="5.00" fill="#ff1a1a" stroke="none" stroke-width="1"/>
<line x1="580.41" y1="145.40" x2="609.63" y2="145.40" stroke="#4343b0" stroke-width="2" stroke-linecap="butt"/>
<line x1="580.41" y1="142.40" x2="580.41" y2="148.40" stroke="#2626a0" stroke-width="1.6" stroke-linecap="butt"/>
<line x1="609.63" y1="142.40" x2="609.63" y2="148.40" stroke="#2626a0" stroke-width="1.6" stroke-linecap="butt"/>
<rect x="590.76" y="142.90" width="5.00" height="5.00" fill="#ff1a1a" stroke="none" stroke-width="1"/>
<line x1="622.92" y1="163.70" x2="670.30" y2="163.70" stroke="#4343b0" stroke-width="2" stroke-linecap="butt"/>
<line x1="622.92" y1="160.70" x2="622.92" y2="166.70" stroke="#2626a0" stroke-width="1.6" stroke-linecap="butt"/>
<line x1="670.30" y1="160.70" x2="670.30" y2="166.70" stroke="#2626a0" stroke-width="1.6" stroke-linecap="butt"/>
<rect x="641.62" y="161.20" width="5.00" height="5.00" fill="#ff1a1a" stroke="none" stroke-width="1"/>
<line x1="533.20" y1="168.80" x2="665.20" y2="168.80" stroke="#444" stroke-width="1" stroke-linecap="butt"/>
<line x1="533.20" y1="168.80" x2="533.20" y2="173.00" stroke="#444" stroke-width="1" stroke-linecap="butt"/>
<text x="533.20" y="182.10" font-size="8.2" text-anchor="middle" fill="#000" font-family='"Liberation Sans", sans-serif' stroke="#000" stroke-width="0.25">0.0</text>
<line x1="555.20" y1="168.80" x2="555.20" y2="173.00" stroke="#444" stroke-width="1" stroke-linecap="butt"/>
<text x="555.20" y="182.10" font-size="8.2" text-anchor="middle" fill="#000" font-family='"Liberation Sans", sans-serif' stroke="#000" stroke-width="0.25">0.5</text>
<line x1="577.20" y1="168.80" x2="577.20" y2="173.00" stroke="#444" stroke-width="1" stroke-linecap="butt"/>
<g>
<path transform="translate(571.50 182.10) scale(0.00400 -0.00400)" d="M763 0H583V1120Q518 1060 412 1000Q307 940 223 910V1080Q374 1150 487 1250Q600 1350 647 1440H763Z" fill="#000" stroke="#000" stroke-width="0.25" vector-effect="non-scaling-stroke"/>
<text x="576.06" y="182.10" font-size="8.2" text-anchor="start" fill="#000" font-family='"Liberation Sans", sans-serif' stroke="#000" stroke-width="0.25">.0</text>
</g>
<line x1="599.20" y1="168.80" x2="599.20" y2="173.00" stroke="#444" stroke-width="1" stroke-linecap="butt"/>
<g>
<path transform="translate(593.50 182.10) scale(0.00400 -0.00400)" d="M763 0H583V1120Q518 1060 412 1000Q307 940 223 910V1080Q374 1150 487 1250Q600 1350 647 1440H763Z" fill="#000" stroke="#000" stroke-width="0.25" vector-effect="non-scaling-stroke"/>
<text x="598.06" y="182.10" font-size="8.2" text-anchor="start" fill="#000" font-family='"Liberation Sans", sans-serif' stroke="#000" stroke-width="0.25">.5</text>
</g>
<line x1="621.20" y1="168.80" x2="621.20" y2="173.00" stroke="#444" stroke-width="1" stroke-linecap="butt"/>
<text x="621.20" y="182.10" font-size="8.2" text-anchor="middle" fill="#000" font-family='"Liberation Sans", sans-serif' stroke="#000" stroke-width="0.25">2.0</text>
<line x1="643.20" y1="168.80" x2="643.20" y2="173.00" stroke="#444" stroke-width="1" stroke-linecap="butt"/>
<text x="643.20" y="182.10" font-size="8.2" text-anchor="middle" fill="#000" font-family='"Liberation Sans", sans-serif' stroke="#000" stroke-width="0.25">2.5</text>
<line x1="665.20" y1="168.80" x2="665.20" y2="173.00" stroke="#444" stroke-width="1" stroke-linecap="butt"/>
<text x="665.20" y="182.10" font-size="8.2" text-anchor="middle" fill="#000" font-family='"Liberation Sans", sans-serif' stroke="#000" stroke-width="0.25">3.0</text>
<text x="601.90" y="196.10" font-size="8.2" text-anchor="middle" fill="#000" font-family='"Liberation Sans", sans-serif' stroke="#000" stroke-width="0.25">Hazard ratio</text>
<text x="194.30" y="294.80" font-size="13.3" text-anchor="middle" font-weight="bold" fill="#000" font-family='"Liberation Sans", sans-serif'>riskscore (p=7.294e−03)</text>
<line x1="92.40" y1="410.40" x2="92.40" y2="374.20" stroke="#5a5a5a" stroke-width="1" stroke-dasharray="2,2.4" stroke-linecap="butt"/>
<line x1="92.40" y1="438.80" x2="92.40" y2="463.10" stroke="#5a5a5a" stroke-width="1" stroke-dasharray="2,2.4" stroke-linecap="butt"/>
<line x1="78.85" y1="374.20" x2="105.95" y2="374.20" stroke="#5a5a5a" stroke-width="1" stroke-linecap="butt"/>
<line x1="78.85" y1="463.10" x2="105.95" y2="463.10" stroke="#5a5a5a" stroke-width="1" stroke-linecap="butt"/>
<rect x="65.30" y="410.40" width="54.20" height="28.40" fill="#d3d3d3" stroke="#555" stroke-width="1"/>
<line x1="65.30" y1="426.30" x2="119.50" y2="426.30" stroke="#000" stroke-width="2.2" stroke-linecap="butt"/>
<line x1="160.20" y1="395.20" x2="160.20" y2="330.70" stroke="#5a5a5a" stroke-width="1" stroke-dasharray="2,2.4" stroke-linecap="butt"/>
<line x1="160.20" y1="443.20" x2="160.20" y2="496.40" stroke="#5a5a5a" stroke-width="1" stroke-dasharray="2,2.4" stroke-linecap="butt"/>
<line x1="146.65" y1="330.70" x2="173.75" y2="330.70" stroke="#5a5a5a" stroke-width="1" stroke-linecap="butt"/>
<line x1="146.65" y1="496.40" x2="173.75" y2="496.40" stroke="#5a5a5a" stroke-width="1" stroke-linecap="butt"/>
<rect x="133.10" y="395.20" width="54.20" height="48.00" fill="#d3d3d3" stroke="#555" stroke-width="1"/>
<line x1="133.10" y1="418.70" x2="187.30" y2="418.70" stroke="#000" stroke-width="2.2" stroke-linecap="butt"/>
<line x1="228.10" y1="384.60" x2="228.10" y2="346.30" stroke="#5a5a5a" stroke-width="1" stroke-dasharray="2,2.4" stroke-linecap="butt"/>
<line x1="228.10" y1="427.10" x2="228.10" y2="483.60" stroke="#5a5a5a" stroke-width="1" stroke-dasharray="2,2.4" stroke-linecap="butt"/>
<line x1="214.55" y1="346.30" x2="241.65" y2="346.30" stroke="#5a5a5a" stroke-width="1" stroke-linecap="butt"/>
<line x1="214.55" y1="483.60" x2="241.65" y2="483.60" stroke="#5a5a5a" stroke-width="1" stroke-linecap="butt"/>
<rect x="201.00" y="384.60" width="54.20" height="42.50" fill="#d3d3d3" stroke="#555" stroke-width="1"/>
<line x1="201.00" y1="406.70" x2="255.20" y2="406.70" stroke="#000" stroke-width="2.2" stroke-linecap="butt"/>
<line x1="296.00" y1="389.00" x2="296.00" y2="350.20" stroke="#5a5a5a" stroke-width="1" stroke-dasharray="2,2.4" stroke-linecap="butt"/>
<line x1="296.00" y1="436.00" x2="296.00" y2="488.40" stroke="#5a5a5a" stroke-width="1" stroke-dasharray="2,2.4" stroke-linecap="butt"/>
<line x1="282.45" y1="350.20" x2="309.55" y2="350.20" stroke="#5a5a5a" stroke-width="1" stroke-linecap="butt"/>
<line x1="282.45" y1="488.40" x2="309.55" y2="488.40" stroke="#5a5a5a" stroke-width="1" stroke-linecap="butt"/>
<rect x="268.90" y="389.00" width="54.20" height="47.00" fill="#d3d3d3" stroke="#555" stroke-width="1"/>
<line x1="268.90" y1="403.20" x2="323.10" y2="403.20" stroke="#000" stroke-width="2.2" stroke-linecap="butt"/>
<circle cx="92.40" cy="374.30" r="2.1" fill="#df506a"/>
<circle cx="96.10" cy="380.80" r="2.1" fill="#df506a"/>
<circle cx="92.40" cy="383.50" r="2.1" fill="#df506a"/>
<circle cx="92.40" cy="400.70" r="2.1" fill="#df506a"/>
<circle cx="80.10" cy="408.20" r="2.1" fill="#df506a"/>
<circle cx="84.60" cy="408.20" r="2.1" fill="#df506a"/>
<circle cx="100.40" cy="408.80" r="2.1" fill="#df506a"/>
<circle cx="88.00" cy="411.80" r="2.1" fill="#df506a"/>
<circle cx="92.40" cy="412.10" r="2.1" fill="#df506a"/>
<circle cx="96.80" cy="412.10" r="2.1" fill="#df506a"/>
<circle cx="92.40" cy="417.70" r="2.1" fill="#df506a"/>
<circle cx="88.00" cy="425.10" r="2.1" fill="#df506a"/>
<circle cx="92.40" cy="426.60" r="2.1" fill="#df506a"/>
<circle cx="96.80" cy="425.10" r="2.1" fill="#df506a"/>
<circle cx="93.80" cy="431.40" r="2.1" fill="#df506a"/>
<circle cx="82.60" cy="433.70" r="2.1" fill="#df506a"/>
<circle cx="86.90" cy="434.80" r="2.1" fill="#df506a"/>
<circle cx="91.40" cy="435.20" r="2.1" fill="#df506a"/>
<circle cx="95.60" cy="437.30" r="2.1" fill="#df506a"/>
<circle cx="99.20" cy="434.70" r="2.1" fill="#df506a"/>
<circle cx="92.40" cy="440.60" r="2.1" fill="#df506a"/>
<circle cx="92.40" cy="447.00" r="2.1" fill="#df506a"/>
<circle cx="88.90" cy="453.00" r="2.1" fill="#df506a"/>
<circle cx="96.10" cy="453.50" r="2.1" fill="#df506a"/>
<circle cx="92.40" cy="456.20" r="2.1" fill="#df506a"/>
<circle cx="96.10" cy="460.50" r="2.1" fill="#df506a"/>
<circle cx="92.40" cy="463.20" r="2.1" fill="#df506a"/>
<circle cx="160.10" cy="332.20" r="2.1" fill="#68e651"/>
<circle cx="164.50" cy="330.70" r="2.1" fill="#68e651"/>
<circle cx="156.20" cy="355.80" r="2.1" fill="#68e651"/>
<circle cx="160.20" cy="358.20" r="2.1" fill="#68e651"/>
<circle cx="164.50" cy="356.60" r="2.1" fill="#68e651"/>
<circle cx="157.70" cy="377.50" r="2.1" fill="#68e651"/>
<circle cx="162.20" cy="377.90" r="2.1" fill="#68e651"/>
<circle cx="166.70" cy="376.50" r="2.1" fill="#68e651"/>
<circle cx="154.50" cy="383.10" r="2.1" fill="#68e651"/>
<circle cx="160.10" cy="382.20" r="2.1" fill="#68e651"/>
<circle cx="157.60" cy="386.50" r="2.1" fill="#68e651"/>
<circle cx="162.00" cy="387.20" r="2.1" fill="#68e651"/>
<circle cx="166.50" cy="385.80" r="2.1" fill="#68e651"/>
<circle cx="147.30" cy="391.80" r="2.1" fill="#68e651"/>
<circle cx="151.60" cy="393.50" r="2.1" fill="#68e651"/>
<circle cx="155.90" cy="395.20" r="2.1" fill="#68e651"/>
<circle cx="160.10" cy="391.10" r="2.1" fill="#68e651"/>
<circle cx="160.10" cy="396.30" r="2.1" fill="#68e651"/>
<circle cx="164.40" cy="393.90" r="2.1" fill="#68e651"/>
<circle cx="168.70" cy="393.90" r="2.1" fill="#68e651"/>
<circle cx="173.00" cy="392.70" r="2.1" fill="#68e651"/>
<circle cx="177.30" cy="390.90" r="2.1" fill="#68e651"/>
<circle cx="154.20" cy="400.10" r="2.1" fill="#68e651"/>
<circle cx="158.30" cy="401.30" r="2.1" fill="#68e651"/>
<circle cx="162.60" cy="402.10" r="2.1" fill="#68e651"/>
<circle cx="165.70" cy="398.70" r="2.1" fill="#68e651"/>
<circle cx="146.80" cy="404.30" r="2.1" fill="#68e651"/>
<circle cx="151.10" cy="404.60" r="2.1" fill="#68e651"/>
<circle cx="155.50" cy="405.40" r="2.1" fill="#68e651"/>
<circle cx="160.10" cy="406.20" r="2.1" fill="#68e651"/>
<circle cx="166.90" cy="404.90" r="2.1" fill="#68e651"/>
<circle cx="171.20" cy="404.50" r="2.1" fill="#68e651"/>
<circle cx="175.70" cy="404.00" r="2.1" fill="#68e651"/>
<circle cx="164.00" cy="408.80" r="2.1" fill="#68e651"/>
<circle cx="160.20" cy="410.80" r="2.1" fill="#68e651"/>
<circle cx="148.80" cy="415.70" r="2.1" fill="#68e651"/>
<circle cx="155.90" cy="414.30" r="2.1" fill="#68e651"/>
<circle cx="160.20" cy="415.90" r="2.1" fill="#68e651"/>
<circle cx="164.50" cy="414.70" r="2.1" fill="#68e651"/>
<circle cx="168.80" cy="413.10" r="2.1" fill="#68e651"/>
<circle cx="151.90" cy="419.00" r="2.1" fill="#68e651"/>
<circle cx="156.40" cy="419.50" r="2.1" fill="#68e651"/>
<circle cx="160.80" cy="420.80" r="2.1" fill="#68e651"/>
<circle cx="165.40" cy="419.60" r="2.1" fill="#68e651"/>
<circle cx="170.00" cy="418.60" r="2.1" fill="#68e651"/>
<circle cx="155.70" cy="424.10" r="2.1" fill="#68e651"/>
<circle cx="160.20" cy="425.20" r="2.1" fill="#68e651"/>
<circle cx="164.50" cy="424.70" r="2.1" fill="#68e651"/>
<circle cx="169.00" cy="423.30" r="2.1" fill="#68e651"/>
<circle cx="150.00" cy="428.20" r="2.1" fill="#68e651"/>
<circle cx="153.90" cy="430.90" r="2.1" fill="#68e651"/>
<circle cx="158.30" cy="431.50" r="2.1" fill="#68e651"/>
<circle cx="164.50" cy="431.50" r="2.1" fill="#68e651"/>
<circle cx="169.00" cy="429.80" r="2.1" fill="#68e651"/>
<circle cx="161.80" cy="434.70" r="2.1" fill="#68e651"/>
<circle cx="157.50" cy="437.00" r="2.1" fill="#68e651"/>
<circle cx="161.60" cy="439.20" r="2.1" fill="#68e651"/>
<circle cx="153.40" cy="441.00" r="2.1" fill="#68e651"/>
<circle cx="157.80" cy="441.90" r="2.1" fill="#68e651"/>
<circle cx="167.20" cy="440.10" r="2.1" fill="#68e651"/>
<circle cx="163.90" cy="443.30" r="2.1" fill="#68e651"/>
<circle cx="160.20" cy="446.20" r="2.1" fill="#68e651"/>
<circle cx="156.40" cy="448.90" r="2.1" fill="#68e651"/>
<circle cx="164.10" cy="448.90" r="2.1" fill="#68e651"/>
<circle cx="160.20" cy="451.70" r="2.1" fill="#68e651"/>
<circle cx="147.10" cy="454.90" r="2.1" fill="#68e651"/>
<circle cx="151.50" cy="456.60" r="2.1" fill="#68e651"/>
<circle cx="155.70" cy="457.90" r="2.1" fill="#68e651"/>
<circle cx="160.20" cy="458.50" r="2.1" fill="#68e651"/>
<circle cx="165.10" cy="458.20" r="2.1" fill="#68e651"/>
<circle cx="169.20" cy="456.00" r="2.1" fill="#68e651"/>
<circle cx="156.80" cy="462.70" r="2.1" fill="#68e651"/>
<circle cx="163.90" cy="462.70" r="2.1" fill="#68e651"/>
<circle cx="160.20" cy="465.40" r="2.1" fill="#68e651"/>
<circle cx="157.30" cy="469.60" r="2.1" fill="#68e651"/>
<circle cx="162.10" cy="470.00" r="2.1" fill="#68e651"/>
<circle cx="160.20" cy="474.30" r="2.1" fill="#68e651"/>
<circle cx="159.40" cy="480.70" r="2.1" fill="#68e651"/>
<circle cx="162.90" cy="483.70" r="2.1" fill="#68e651"/>
<circle cx="160.20" cy="487.40" r="2.1" fill="#68e651"/>
<circle cx="160.20" cy="496.60" r="2.1" fill="#68e651"/>
<circle cx="231.70" cy="345.90" r="2.1" fill="#449ae8"/>
<circle cx="228.00" cy="349.10" r="2.1" fill="#449ae8"/>
<circle cx="228.00" cy="359.00" r="2.1" fill="#449ae8"/>
<circle cx="232.80" cy="358.80" r="2.1" fill="#449ae8"/>
<circle cx="221.10" cy="368.30" r="2.1" fill="#449ae8"/>
<circle cx="225.80" cy="369.10" r="2.1" fill="#449ae8"/>
<circle cx="231.30" cy="369.70" r="2.1" fill="#449ae8"/>
<circle cx="235.60" cy="367.90" r="2.1" fill="#449ae8"/>
<circle cx="228.00" cy="372.90" r="2.1" fill="#449ae8"/>
<circle cx="225.10" cy="376.30" r="2.1" fill="#449ae8"/>
<circle cx="232.80" cy="377.00" r="2.1" fill="#449ae8"/>
<circle cx="228.70" cy="379.00" r="2.1" fill="#449ae8"/>
<circle cx="224.50" cy="381.20" r="2.1" fill="#449ae8"/>
<circle cx="231.90" cy="382.10" r="2.1" fill="#449ae8"/>
<circle cx="228.00" cy="384.10" r="2.1" fill="#449ae8"/>
<circle cx="220.30" cy="384.90" r="2.1" fill="#449ae8"/>
<circle cx="223.60" cy="388.10" r="2.1" fill="#449ae8"/>
<circle cx="228.00" cy="388.80" r="2.1" fill="#449ae8"/>
<circle cx="232.50" cy="388.60" r="2.1" fill="#449ae8"/>
<circle cx="236.90" cy="386.90" r="2.1" fill="#449ae8"/>
<circle cx="221.50" cy="392.20" r="2.1" fill="#449ae8"/>
<circle cx="226.00" cy="393.20" r="2.1" fill="#449ae8"/>
<circle cx="223.60" cy="397.00" r="2.1" fill="#449ae8"/>
<circle cx="228.00" cy="397.40" r="2.1" fill="#449ae8"/>
<circle cx="232.10" cy="395.30" r="2.1" fill="#449ae8"/>
<circle cx="235.90" cy="400.00" r="2.1" fill="#449ae8"/>
<circle cx="223.80" cy="402.50" r="2.1" fill="#449ae8"/>
<circle cx="228.00" cy="404.00" r="2.1" fill="#449ae8"/>
<circle cx="232.50" cy="402.70" r="2.1" fill="#449ae8"/>
<circle cx="220.10" cy="406.70" r="2.1" fill="#449ae8"/>
<circle cx="224.50" cy="407.70" r="2.1" fill="#449ae8"/>
<circle cx="235.90" cy="406.60" r="2.1" fill="#449ae8"/>
<circle cx="240.40" cy="406.60" r="2.1" fill="#449ae8"/>
<circle cx="228.00" cy="410.80" r="2.1" fill="#449ae8"/>
<circle cx="232.50" cy="409.70" r="2.1" fill="#449ae8"/>
<circle cx="231.30" cy="414.20" r="2.1" fill="#449ae8"/>
<circle cx="228.00" cy="417.30" r="2.1" fill="#449ae8"/>
<circle cx="217.20" cy="418.60" r="2.1" fill="#449ae8"/>
<circle cx="221.10" cy="421.10" r="2.1" fill="#449ae8"/>
<circle cx="225.40" cy="421.10" r="2.1" fill="#449ae8"/>
<circle cx="229.90" cy="421.80" r="2.1" fill="#449ae8"/>
<circle cx="234.00" cy="419.80" r="2.1" fill="#449ae8"/>
<circle cx="238.50" cy="418.90" r="2.1" fill="#449ae8"/>
<circle cx="228.00" cy="425.60" r="2.1" fill="#449ae8"/>
<circle cx="234.30" cy="425.30" r="2.1" fill="#449ae8"/>
<circle cx="238.80" cy="424.90" r="2.1" fill="#449ae8"/>
<circle cx="219.60" cy="428.20" r="2.1" fill="#449ae8"/>
<circle cx="223.90" cy="428.50" r="2.1" fill="#449ae8"/>
<circle cx="228.00" cy="430.70" r="2.1" fill="#449ae8"/>
<circle cx="232.50" cy="429.70" r="2.1" fill="#449ae8"/>
<circle cx="228.00" cy="437.50" r="2.1" fill="#449ae8"/>
<circle cx="232.50" cy="436.10" r="2.1" fill="#449ae8"/>
<circle cx="219.10" cy="440.60" r="2.1" fill="#449ae8"/>
<circle cx="223.50" cy="441.90" r="2.1" fill="#449ae8"/>
<circle cx="228.00" cy="442.80" r="2.1" fill="#449ae8"/>
<circle cx="234.00" cy="441.90" r="2.1" fill="#449ae8"/>
<circle cx="228.00" cy="447.60" r="2.1" fill="#449ae8"/>
<circle cx="232.50" cy="446.20" r="2.1" fill="#449ae8"/>
<circle cx="228.00" cy="459.10" r="2.1" fill="#449ae8"/>
<circle cx="232.50" cy="458.10" r="2.1" fill="#449ae8"/>
<circle cx="228.00" cy="477.00" r="2.1" fill="#449ae8"/>
<circle cx="228.00" cy="483.70" r="2.1" fill="#449ae8"/>
<circle cx="296.00" cy="350.30" r="2.1" fill="#6ef8ec"/>
<circle cx="282.20" cy="361.50" r="2.1" fill="#6ef8ec"/>
<circle cx="286.60" cy="363.00" r="2.1" fill="#6ef8ec"/>
<circle cx="291.00" cy="363.40" r="2.1" fill="#6ef8ec"/>
<circle cx="295.80" cy="363.60" r="2.1" fill="#6ef8ec"/>
<circle cx="301.90" cy="363.00" r="2.1" fill="#6ef8ec"/>
<circle cx="306.50" cy="361.80" r="2.1" fill="#6ef8ec"/>
<circle cx="299.10" cy="366.70" r="2.1" fill="#6ef8ec"/>
<circle cx="295.80" cy="370.00" r="2.1" fill="#6ef8ec"/>
<circle cx="286.00" cy="373.50" r="2.1" fill="#6ef8ec"/>
<circle cx="290.10" cy="375.20" r="2.1" fill="#6ef8ec"/>
<circle cx="294.00" cy="377.60" r="2.1" fill="#6ef8ec"/>
<circle cx="299.30" cy="375.70" r="2.1" fill="#6ef8ec"/>
<circle cx="303.80" cy="374.80" r="2.1" fill="#6ef8ec"/>
<circle cx="286.30" cy="381.10" r="2.1" fill="#6ef8ec"/>
<circle cx="293.90" cy="382.20" r="2.1" fill="#6ef8ec"/>
<circle cx="297.70" cy="380.00" r="2.1" fill="#6ef8ec"/>
<circle cx="302.80" cy="379.90" r="2.1" fill="#6ef8ec"/>
<circle cx="308.70" cy="379.90" r="2.1" fill="#6ef8ec"/>
<circle cx="288.90" cy="385.30" r="2.1" fill="#6ef8ec"/>
<circle cx="293.00" cy="387.00" r="2.1" fill="#6ef8ec"/>
<circle cx="297.10" cy="385.70" r="2.1" fill="#6ef8ec"/>
<circle cx="301.50" cy="384.20" r="2.1" fill="#6ef8ec"/>
<circle cx="305.90" cy="383.50" r="2.1" fill="#6ef8ec"/>
<circle cx="284.00" cy="388.60" r="2.1" fill="#6ef8ec"/>
<circle cx="289.00" cy="390.10" r="2.1" fill="#6ef8ec"/>
<circle cx="295.80" cy="391.00" r="2.1" fill="#6ef8ec"/>
<circle cx="301.90" cy="389.00" r="2.1" fill="#6ef8ec"/>
<circle cx="308.00" cy="388.10" r="2.1" fill="#6ef8ec"/>
<circle cx="313.30" cy="388.80" r="2.1" fill="#6ef8ec"/>
<circle cx="318.10" cy="388.80" r="2.1" fill="#6ef8ec"/>
<circle cx="276.50" cy="391.90" r="2.1" fill="#6ef8ec"/>
<circle cx="280.90" cy="392.30" r="2.1" fill="#6ef8ec"/>
<circle cx="284.80" cy="395.10" r="2.1" fill="#6ef8ec"/>
<circle cx="290.50" cy="394.50" r="2.1" fill="#6ef8ec"/>
<circle cx="299.70" cy="393.00" r="2.1" fill="#6ef8ec"/>
<circle cx="306.10" cy="392.50" r="2.1" fill="#6ef8ec"/>
<circle cx="310.80" cy="392.70" r="2.1" fill="#6ef8ec"/>
<circle cx="295.80" cy="395.80" r="2.1" fill="#6ef8ec"/>
<circle cx="277.40" cy="399.30" r="2.1" fill="#6ef8ec"/>
<circle cx="281.80" cy="399.70" r="2.1" fill="#6ef8ec"/>
<circle cx="287.50" cy="398.30" r="2.1" fill="#6ef8ec"/>
<circle cx="292.10" cy="398.60" r="2.1" fill="#6ef8ec"/>
<circle cx="299.70" cy="398.60" r="2.1" fill="#6ef8ec"/>
<circle cx="305.00" cy="397.10" r="2.1" fill="#6ef8ec"/>
<circle cx="312.40" cy="399.70" r="2.1" fill="#6ef8ec"/>
<circle cx="316.10" cy="396.70" r="2.1" fill="#6ef8ec"/>
<circle cx="296.00" cy="401.10" r="2.1" fill="#6ef8ec"/>
<circle cx="303.70" cy="401.10" r="2.1" fill="#6ef8ec"/>
<circle cx="308.20" cy="400.90" r="2.1" fill="#6ef8ec"/>
<circle cx="285.40" cy="403.00" r="2.1" fill="#6ef8ec"/>
<circle cx="289.80" cy="403.20" r="2.1" fill="#6ef8ec"/>
<circle cx="294.00" cy="405.40" r="2.1" fill="#6ef8ec"/>
<circle cx="300.90" cy="404.60" r="2.1" fill="#6ef8ec"/>
<circle cx="307.00" cy="406.50" r="2.1" fill="#6ef8ec"/>
<circle cx="284.80" cy="407.90" r="2.1" fill="#6ef8ec"/>
<circle cx="289.20" cy="409.80" r="2.1" fill="#6ef8ec"/>
<circle cx="293.90" cy="409.80" r="2.1" fill="#6ef8ec"/>
<circle cx="297.70" cy="407.90" r="2.1" fill="#6ef8ec"/>
<circle cx="303.50" cy="408.90" r="2.1" fill="#6ef8ec"/>
<circle cx="284.00" cy="413.10" r="2.1" fill="#6ef8ec"/>
<circle cx="295.80" cy="413.30" r="2.1" fill="#6ef8ec"/>
<circle cx="300.20" cy="412.00" r="2.1" fill="#6ef8ec"/>
<circle cx="287.80" cy="416.00" r="2.1" fill="#6ef8ec"/>
<circle cx="291.70" cy="418.20" r="2.1" fill="#6ef8ec"/>
<circle cx="295.90" cy="419.90" r="2.1" fill="#6ef8ec"/>
<circle cx="300.50" cy="419.70" r="2.1" fill="#6ef8ec"/>
<circle cx="303.30" cy="416.00" r="2.1" fill="#6ef8ec"/>
<circle cx="308.00" cy="415.80" r="2.1" fill="#6ef8ec"/>
<circle cx="291.30" cy="425.40" r="2.1" fill="#6ef8ec"/>
<circle cx="295.90" cy="426.10" r="2.1" fill="#6ef8ec"/>
<circle cx="300.30" cy="425.80" r="2.1" fill="#6ef8ec"/>
<circle cx="305.00" cy="424.60" r="2.1" fill="#6ef8ec"/>
<circle cx="285.80" cy="433.20" r="2.1" fill="#6ef8ec"/>
<circle cx="295.90" cy="433.90" r="2.1" fill="#6ef8ec"/>
<circle cx="299.80" cy="431.50" r="2.1" fill="#6ef8ec"/>
<circle cx="289.00" cy="436.40" r="2.1" fill="#6ef8ec"/>
<circle cx="293.50" cy="437.50" r="2.1" fill="#6ef8ec"/>
<circle cx="301.10" cy="437.20" r="2.1" fill="#6ef8ec"/>
<circle cx="305.20" cy="435.20" r="2.1" fill="#6ef8ec"/>
<circle cx="282.90" cy="440.30" r="2.1" fill="#6ef8ec"/>
<circle cx="287.40" cy="441.50" r="2.1" fill="#6ef8ec"/>
<circle cx="291.50" cy="443.00" r="2.1" fill="#6ef8ec"/>
<circle cx="295.90" cy="444.00" r="2.1" fill="#6ef8ec"/>
<circle cx="297.40" cy="439.50" r="2.1" fill="#6ef8ec"/>
<circle cx="300.80" cy="442.70" r="2.1" fill="#6ef8ec"/>
<circle cx="305.00" cy="441.10" r="2.1" fill="#6ef8ec"/>
<circle cx="292.00" cy="448.00" r="2.1" fill="#6ef8ec"/>
<circle cx="299.30" cy="447.20" r="2.1" fill="#6ef8ec"/>
<circle cx="283.50" cy="450.90" r="2.1" fill="#6ef8ec"/>
<circle cx="288.10" cy="451.90" r="2.1" fill="#6ef8ec"/>
<circle cx="292.50" cy="453.00" r="2.1" fill="#6ef8ec"/>
<circle cx="296.20" cy="450.30" r="2.1" fill="#6ef8ec"/>
<circle cx="303.10" cy="452.10" r="2.1" fill="#6ef8ec"/>
<circle cx="307.40" cy="451.10" r="2.1" fill="#6ef8ec"/>
<circle cx="311.90" cy="449.90" r="2.1" fill="#6ef8ec"/>
<circle cx="299.30" cy="454.50" r="2.1" fill="#6ef8ec"/>
<circle cx="295.20" cy="456.50" r="2.1" fill="#6ef8ec"/>
<circle cx="299.10" cy="459.10" r="2.1" fill="#6ef8ec"/>
<circle cx="291.30" cy="462.10" r="2.1" fill="#6ef8ec"/>
<circle cx="295.90" cy="462.40" r="2.1" fill="#6ef8ec"/>
<circle cx="299.30" cy="465.80" r="2.1" fill="#6ef8ec"/>
<circle cx="295.90" cy="469.20" r="2.1" fill="#6ef8ec"/>
<circle cx="295.90" cy="488.50" r="2.1" fill="#6ef8ec"/>
<rect x="47.5" y="307.0" width="293.0" height="196.5" fill="none" stroke="#555" stroke-width="1"/>
<line x1="41.50" y1="502.00" x2="47.50" y2="502.00" stroke="#555" stroke-width="1" stroke-linecap="butt"/>
<text x="34.10" y="502.00" font-size="12.4" text-anchor="middle" transform="rotate(-90 34.1 502.0)" fill="#000" font-family='"Liberation Sans", sans-serif'>−2</text>
<line x1="41.50" y1="458.00" x2="47.50" y2="458.00" stroke="#555" stroke-width="1" stroke-linecap="butt"/>
<g transform="rotate(-90 34.1 458.0)">
<text x="27.03" y="458.00" font-size="12.4" text-anchor="start" fill="#000" font-family='"Liberation Sans", sans-serif'>−</text>
<path transform="translate(34.27 458.00) scale(0.00605 -0.00605)" d="M763 0H583V1120Q518 1060 412 1000Q307 940 223 910V1080Q374 1150 487 1250Q600 1350 647 1440H763Z" fill="#000"/>
</g>
<line x1="41.50" y1="414.00" x2="47.50" y2="414.00" stroke="#555" stroke-width="1" stroke-linecap="butt"/>
<text x="34.10" y="414.00" font-size="12.4" text-anchor="middle" transform="rotate(-90 34.1 414.0)" fill="#000" font-family='"Liberation Sans", sans-serif'>0</text>
<line x1="41.50" y1="370.00" x2="47.50" y2="370.00" stroke="#555" stroke-width="1" stroke-linecap="butt"/>
<g transform="rotate(-90 34.1 370.0)">
<path transform="translate(30.65 370.00) scale(0.00605 -0.00605)" d="M763 0H583V1120Q518 1060 412 1000Q307 940 223 910V1080Q374 1150 487 1250Q600 1350 647 1440H763Z" fill="#000"/>
</g>
<line x1="41.50" y1="326.00" x2="47.50" y2="326.00" stroke="#555" stroke-width="1" stroke-linecap="butt"/>
<text x="34.10" y="326.00" font-size="12.4" text-anchor="middle" transform="rotate(-90 34.1 326.0)" fill="#000" font-family='"Liberation Sans", sans-serif'>2</text>
<line x1="92.40" y1="503.50" x2="92.40" y2="509.50" stroke="#555" stroke-width="1" stroke-linecap="butt"/>
<g>
<path transform="translate(88.95 524.10) scale(0.00605 -0.00605)" d="M763 0H583V1120Q518 1060 412 1000Q307 940 223 910V1080Q374 1150 487 1250Q600 1350 647 1440H763Z" fill="#000"/>
</g>
<line x1="160.20" y1="503.50" x2="160.20" y2="509.50" stroke="#555" stroke-width="1" stroke-linecap="butt"/>
<text x="160.20" y="524.10" font-size="12.4" text-anchor="middle" fill="#000" font-family='"Liberation Sans", sans-serif'>2</text>
<line x1="228.10" y1="503.50" x2="228.10" y2="509.50" stroke="#555" stroke-width="1" stroke-linecap="butt"/>
<text x="228.10" y="524.10" font-size="12.4" text-anchor="middle" fill="#000" font-family='"Liberation Sans", sans-serif'>3</text>
<line x1="296.00" y1="503.50" x2="296.00" y2="509.50" stroke="#555" stroke-width="1" stroke-linecap="butt"/>
<text x="296.00" y="524.10" font-size="12.4" text-anchor="middle" fill="#000" font-family='"Liberation Sans", sans-serif'>4</text>
<text x="12.00" y="405.30" font-size="13.2" text-anchor="middle" transform="rotate(-90 12.0 405.3)" fill="#000" font-family='"Liberation Sans", sans-serif'>Riskscore value</text>
<text x="194.00" y="546.70" font-size="13.2" text-anchor="middle" fill="#000" font-family='"Liberation Sans", sans-serif'>T</text>
<g>
<text x="465.78" y="298.40" font-size="13.0" text-anchor="start" font-weight="bold" fill="#000" font-family='"Liberation Sans", sans-serif'>riskscore (p=</text>
<path transform="translate(547.08 298.40) scale(0.00635 -0.00635)" d="M796 0H515V1040Q361 900 152 830V1080Q262 1115 391 1215Q520 1315 568 1440H796Z" fill="#000"/>
<text x="554.31" y="298.40" font-size="13.0" text-anchor="start" font-weight="bold" fill="#000" font-family='"Liberation Sans", sans-serif'>.40</text>
<path transform="translate(572.38 298.40) scale(0.00635 -0.00635)" d="M796 0H515V1040Q361 900 152 830V1080Q262 1115 391 1215Q520 1315 568 1440H796Z" fill="#000"/>
<text x="579.61" y="298.40" font-size="13.0" text-anchor="start" font-weight="bold" fill="#000" font-family='"Liberation Sans", sans-serif'>e−02)</text>
</g>
<line x1="439.90" y1="393.20" x2="439.90" y2="334.90" stroke="#5a5a5a" stroke-width="1" stroke-dasharray="2,2.4" stroke-linecap="butt"/>
<line x1="439.90" y1="436.50" x2="439.90" y2="488.20" stroke="#5a5a5a" stroke-width="1" stroke-dasharray="2,2.4" stroke-linecap="butt"/>
<line x1="426.50" y1="334.90" x2="453.30" y2="334.90" stroke="#5a5a5a" stroke-width="1" stroke-linecap="butt"/>
<line x1="426.50" y1="488.20" x2="453.30" y2="488.20" stroke="#5a5a5a" stroke-width="1" stroke-linecap="butt"/>
<rect x="413.10" y="393.20" width="53.60" height="43.30" fill="#d3d3d3" stroke="#555" stroke-width="1"/>
<line x1="413.10" y1="410.70" x2="466.70" y2="410.70" stroke="#000" stroke-width="2.2" stroke-linecap="butt"/>
<line x1="506.50" y1="404.20" x2="506.50" y2="360.30" stroke="#5a5a5a" stroke-width="1" stroke-dasharray="2,2.4" stroke-linecap="butt"/>
<line x1="506.50" y1="447.30" x2="506.50" y2="483.10" stroke="#5a5a5a" stroke-width="1" stroke-dasharray="2,2.4" stroke-linecap="butt"/>
<line x1="493.10" y1="360.30" x2="519.90" y2="360.30" stroke="#5a5a5a" stroke-width="1" stroke-linecap="butt"/>
<line x1="493.10" y1="483.10" x2="519.90" y2="483.10" stroke="#5a5a5a" stroke-width="1" stroke-linecap="butt"/>
<rect x="479.70" y="404.20" width="53.60" height="43.10" fill="#d3d3d3" stroke="#555" stroke-width="1"/>
<line x1="479.70" y1="420.60" x2="533.30" y2="420.60" stroke="#000" stroke-width="2.2" stroke-linecap="butt"/>
<line x1="572.90" y1="389.90" x2="572.90" y2="333.40" stroke="#5a5a5a" stroke-width="1" stroke-dasharray="2,2.4" stroke-linecap="butt"/>
<line x1="572.90" y1="436.00" x2="572.90" y2="496.00" stroke="#5a5a5a" stroke-width="1" stroke-dasharray="2,2.4" stroke-linecap="butt"/>
<line x1="559.50" y1="333.40" x2="586.30" y2="333.40" stroke="#5a5a5a" stroke-width="1" stroke-linecap="butt"/>
<line x1="559.50" y1="496.00" x2="586.30" y2="496.00" stroke="#5a5a5a" stroke-width="1" stroke-linecap="butt"/>
<rect x="546.10" y="389.90" width="53.60" height="46.10" fill="#d3d3d3" stroke="#555" stroke-width="1"/>
<line x1="546.10" y1="407.60" x2="599.70" y2="407.60" stroke="#000" stroke-width="2.2" stroke-linecap="butt"/>
<line x1="639.40" y1="364.70" x2="639.40" y2="352.50" stroke="#5a5a5a" stroke-width="1" stroke-dasharray="2,2.4" stroke-linecap="butt"/>
<line x1="639.40" y1="379.30" x2="639.40" y2="382.00" stroke="#5a5a5a" stroke-width="1" stroke-dasharray="2,2.4" stroke-linecap="butt"/>
<line x1="626.00" y1="352.50" x2="652.80" y2="352.50" stroke="#5a5a5a" stroke-width="1" stroke-linecap="butt"/>
<line x1="626.00" y1="382.00" x2="652.80" y2="382.00" stroke="#5a5a5a" stroke-width="1" stroke-linecap="butt"/>
<rect x="612.60" y="364.70" width="53.60" height="14.60" fill="#d3d3d3" stroke="#555" stroke-width="1"/>
<line x1="612.60" y1="377.20" x2="666.20" y2="377.20" stroke="#000" stroke-width="2.2" stroke-linecap="butt"/>
<circle cx="440.00" cy="335.10" r="2.1" fill="#df506a"/>
<circle cx="440.00" cy="351.50" r="2.1" fill="#df506a"/>
<circle cx="440.00" cy="358.90" r="2.1" fill="#df506a"/>
<circle cx="444.30" cy="358.00" r="2.1" fill="#df506a"/>
<circle cx="435.80" cy="365.70" r="2.1" fill="#df506a"/>
<circle cx="440.20" cy="365.90" r="2.1" fill="#df506a"/>
<circle cx="440.00" cy="370.30" r="2.1" fill="#df506a"/>
<circle cx="444.30" cy="369.90" r="2.1" fill="#df506a"/>
<circle cx="427.10" cy="377.10" r="2.1" fill="#df506a"/>
<circle cx="431.70" cy="377.70" r="2.1" fill="#df506a"/>
<circle cx="438.70" cy="378.20" r="2.1" fill="#df506a"/>
<circle cx="445.50" cy="375.70" r="2.1" fill="#df506a"/>
<circle cx="428.60" cy="381.90" r="2.1" fill="#df506a"/>
<circle cx="433.20" cy="381.70" r="2.1" fill="#df506a"/>
<circle cx="440.00" cy="382.40" r="2.1" fill="#df506a"/>
<circle cx="443.70" cy="379.90" r="2.1" fill="#df506a"/>
<circle cx="450.30" cy="379.50" r="2.1" fill="#df506a"/>
<circle cx="436.10" cy="385.20" r="2.1" fill="#df506a"/>
<circle cx="447.70" cy="383.00" r="2.1" fill="#df506a"/>
<circle cx="444.20" cy="385.90" r="2.1" fill="#df506a"/>
<circle cx="431.70" cy="388.00" r="2.1" fill="#df506a"/>
<circle cx="440.00" cy="387.40" r="2.1" fill="#df506a"/>
<circle cx="436.10" cy="390.30" r="2.1" fill="#df506a"/>
<circle cx="444.20" cy="390.40" r="2.1" fill="#df506a"/>
<circle cx="448.50" cy="389.70" r="2.1" fill="#df506a"/>
<circle cx="440.00" cy="392.00" r="2.1" fill="#df506a"/>
<circle cx="417.70" cy="392.40" r="2.1" fill="#df506a"/>
<circle cx="422.30" cy="393.20" r="2.1" fill="#df506a"/>
<circle cx="426.50" cy="393.90" r="2.1" fill="#df506a"/>
<circle cx="430.80" cy="393.90" r="2.1" fill="#df506a"/>
<circle cx="453.10" cy="393.90" r="2.1" fill="#df506a"/>
<circle cx="457.30" cy="393.90" r="2.1" fill="#df506a"/>
<circle cx="461.70" cy="392.90" r="2.1" fill="#df506a"/>
<circle cx="466.10" cy="392.40" r="2.1" fill="#df506a"/>
<circle cx="435.80" cy="395.00" r="2.1" fill="#df506a"/>
<circle cx="440.00" cy="396.40" r="2.1" fill="#df506a"/>
<circle cx="444.30" cy="395.00" r="2.1" fill="#df506a"/>
<circle cx="448.50" cy="394.80" r="2.1" fill="#df506a"/>
<circle cx="432.30" cy="398.10" r="2.1" fill="#df506a"/>
<circle cx="424.70" cy="399.90" r="2.1" fill="#df506a"/>
<circle cx="436.10" cy="400.80" r="2.1" fill="#df506a"/>
<circle cx="440.80" cy="401.20" r="2.1" fill="#df506a"/>
<circle cx="445.20" cy="400.30" r="2.1" fill="#df506a"/>
<circle cx="451.00" cy="400.10" r="2.1" fill="#df506a"/>
<circle cx="428.20" cy="402.30" r="2.1" fill="#df506a"/>
<circle cx="432.30" cy="404.10" r="2.1" fill="#df506a"/>
<circle cx="438.00" cy="404.70" r="2.1" fill="#df506a"/>
<circle cx="444.60" cy="405.30" r="2.1" fill="#df506a"/>
<circle cx="448.70" cy="403.80" r="2.1" fill="#df506a"/>
<circle cx="417.00" cy="407.60" r="2.1" fill="#df506a"/>
<circle cx="421.00" cy="409.70" r="2.1" fill="#df506a"/>
<circle cx="425.30" cy="410.20" r="2.1" fill="#df506a"/>
<circle cx="429.70" cy="410.20" r="2.1" fill="#df506a"/>
<circle cx="435.00" cy="407.80" r="2.1" fill="#df506a"/>
<circle cx="440.80" cy="407.90" r="2.1" fill="#df506a"/>
<circle cx="437.90" cy="411.10" r="2.1" fill="#df506a"/>
<circle cx="445.20" cy="410.60" r="2.1" fill="#df506a"/>
<circle cx="449.60" cy="409.50" r="2.1" fill="#df506a"/>
<circle cx="455.10" cy="410.00" r="2.1" fill="#df506a"/>
<circle cx="459.50" cy="408.80" r="2.1" fill="#df506a"/>
<circle cx="441.70" cy="413.00" r="2.1" fill="#df506a"/>
<circle cx="431.70" cy="414.30" r="2.1" fill="#df506a"/>
<circle cx="436.10" cy="415.50" r="2.1" fill="#df506a"/>
<circle cx="448.10" cy="414.90" r="2.1" fill="#df506a"/>
<circle cx="452.50" cy="413.20" r="2.1" fill="#df506a"/>
<circle cx="440.00" cy="417.40" r="2.1" fill="#df506a"/>
<circle cx="444.30" cy="417.00" r="2.1" fill="#df506a"/>
<circle cx="427.10" cy="419.90" r="2.1" fill="#df506a"/>
<circle cx="431.50" cy="420.90" r="2.1" fill="#df506a"/>
<circle cx="435.60" cy="422.20" r="2.1" fill="#df506a"/>
<circle cx="440.00" cy="422.70" r="2.1" fill="#df506a"/>
<circle cx="444.30" cy="421.60" r="2.1" fill="#df506a"/>
<circle cx="448.40" cy="420.20" r="2.1" fill="#df506a"/>
<circle cx="452.90" cy="419.90" r="2.1" fill="#df506a"/>
<circle cx="425.10" cy="425.30" r="2.1" fill="#df506a"/>
<circle cx="429.40" cy="426.00" r="2.1" fill="#df506a"/>
<circle cx="433.80" cy="426.90" r="2.1" fill="#df506a"/>
<circle cx="440.00" cy="427.50" r="2.1" fill="#df506a"/>
<circle cx="444.30" cy="426.20" r="2.1" fill="#df506a"/>
<circle cx="450.50" cy="425.70" r="2.1" fill="#df506a"/>
<circle cx="455.10" cy="425.30" r="2.1" fill="#df506a"/>
<circle cx="435.80" cy="430.50" r="2.1" fill="#df506a"/>
<circle cx="447.70" cy="429.20" r="2.1" fill="#df506a"/>
<circle cx="440.00" cy="432.50" r="2.1" fill="#df506a"/>
<circle cx="444.30" cy="432.10" r="2.1" fill="#df506a"/>
<circle cx="428.60" cy="435.40" r="2.1" fill="#df506a"/>
<circle cx="433.00" cy="435.80" r="2.1" fill="#df506a"/>
<circle cx="437.00" cy="437.70" r="2.1" fill="#df506a"/>
<circle cx="442.40" cy="437.40" r="2.1" fill="#df506a"/>
<circle cx="446.80" cy="436.80" r="2.1" fill="#df506a"/>
<circle cx="451.00" cy="435.40" r="2.1" fill="#df506a"/>
<circle cx="423.60" cy="439.70" r="2.1" fill="#df506a"/>
<circle cx="428.00" cy="441.10" r="2.1" fill="#df506a"/>
<circle cx="431.90" cy="443.00" r="2.1" fill="#df506a"/>
<circle cx="436.30" cy="443.90" r="2.1" fill="#df506a"/>
<circle cx="440.00" cy="441.10" r="2.1" fill="#df506a"/>
<circle cx="445.20" cy="443.20" r="2.1" fill="#df506a"/>
<circle cx="449.60" cy="442.10" r="2.1" fill="#df506a"/>
<circle cx="453.80" cy="440.60" r="2.1" fill="#df506a"/>
<circle cx="440.00" cy="446.50" r="2.1" fill="#df506a"/>
<circle cx="444.00" cy="447.40" r="2.1" fill="#df506a"/>
<circle cx="436.10" cy="449.40" r="2.1" fill="#df506a"/>
<circle cx="441.70" cy="450.90" r="2.1" fill="#df506a"/>
<circle cx="437.90" cy="453.30" r="2.1" fill="#df506a"/>
<circle cx="441.10" cy="456.60" r="2.1" fill="#df506a"/>
<circle cx="432.60" cy="458.40" r="2.1" fill="#df506a"/>
<circle cx="447.20" cy="458.60" r="2.1" fill="#df506a"/>
<circle cx="451.00" cy="456.50" r="2.1" fill="#df506a"/>
<circle cx="440.00" cy="461.00" r="2.1" fill="#df506a"/>
<circle cx="434.50" cy="462.60" r="2.1" fill="#df506a"/>
<circle cx="445.20" cy="462.80" r="2.1" fill="#df506a"/>
<circle cx="437.90" cy="465.60" r="2.1" fill="#df506a"/>
<circle cx="442.20" cy="465.80" r="2.1" fill="#df506a"/>
<circle cx="440.00" cy="469.80" r="2.1" fill="#df506a"/>
<circle cx="440.00" cy="477.00" r="2.1" fill="#df506a"/>
<circle cx="440.00" cy="483.10" r="2.1" fill="#df506a"/>
<circle cx="440.00" cy="488.00" r="2.1" fill="#df506a"/>
<circle cx="444.30" cy="486.90" r="2.1" fill="#df506a"/>
<circle cx="506.30" cy="361.00" r="2.1" fill="#68e651"/>
<circle cx="510.90" cy="360.20" r="2.1" fill="#68e651"/>
<circle cx="506.30" cy="368.80" r="2.1" fill="#68e651"/>
<circle cx="509.70" cy="375.20" r="2.1" fill="#68e651"/>
<circle cx="506.30" cy="378.70" r="2.1" fill="#68e651"/>
<circle cx="510.70" cy="384.90" r="2.1" fill="#68e651"/>
<circle cx="506.30" cy="386.70" r="2.1" fill="#68e651"/>
<circle cx="503.10" cy="394.50" r="2.1" fill="#68e651"/>
<circle cx="510.40" cy="395.50" r="2.1" fill="#68e651"/>
<circle cx="506.30" cy="398.00" r="2.1" fill="#68e651"/>
<circle cx="495.40" cy="401.40" r="2.1" fill="#68e651"/>
<circle cx="506.30" cy="402.50" r="2.1" fill="#68e651"/>
<circle cx="498.10" cy="405.20" r="2.1" fill="#68e651"/>
<circle cx="502.50" cy="405.40" r="2.1" fill="#68e651"/>
<circle cx="506.30" cy="407.60" r="2.1" fill="#68e651"/>
<circle cx="510.50" cy="406.00" r="2.1" fill="#68e651"/>
<circle cx="514.90" cy="404.00" r="2.1" fill="#68e651"/>
<circle cx="498.10" cy="412.00" r="2.1" fill="#68e651"/>
<circle cx="502.50" cy="412.80" r="2.1" fill="#68e651"/>
<circle cx="506.30" cy="414.80" r="2.1" fill="#68e651"/>
<circle cx="510.50" cy="413.20" r="2.1" fill="#68e651"/>
<circle cx="514.90" cy="411.80" r="2.1" fill="#68e651"/>
<circle cx="502.30" cy="418.80" r="2.1" fill="#68e651"/>
<circle cx="506.30" cy="420.80" r="2.1" fill="#68e651"/>
<circle cx="510.70" cy="420.40" r="2.1" fill="#68e651"/>
<circle cx="507.70" cy="424.60" r="2.1" fill="#68e651"/>
<circle cx="506.40" cy="429.20" r="2.1" fill="#68e651"/>
<circle cx="495.90" cy="432.30" r="2.1" fill="#68e651"/>
<circle cx="499.60" cy="434.60" r="2.1" fill="#68e651"/>
<circle cx="504.10" cy="434.60" r="2.1" fill="#68e651"/>
<circle cx="513.00" cy="432.30" r="2.1" fill="#68e651"/>
<circle cx="510.00" cy="435.70" r="2.1" fill="#68e651"/>
<circle cx="506.40" cy="438.00" r="2.1" fill="#68e651"/>
<circle cx="502.10" cy="441.90" r="2.1" fill="#68e651"/>
<circle cx="506.40" cy="442.70" r="2.1" fill="#68e651"/>
<circle cx="510.80" cy="441.90" r="2.1" fill="#68e651"/>
<circle cx="506.40" cy="448.00" r="2.1" fill="#68e651"/>
<circle cx="510.80" cy="447.10" r="2.1" fill="#68e651"/>
<circle cx="502.40" cy="451.80" r="2.1" fill="#68e651"/>
<circle cx="510.40" cy="452.00" r="2.1" fill="#68e651"/>
<circle cx="506.40" cy="453.90" r="2.1" fill="#68e651"/>
<circle cx="498.20" cy="456.20" r="2.1" fill="#68e651"/>
<circle cx="502.40" cy="456.80" r="2.1" fill="#68e651"/>
<circle cx="506.40" cy="459.10" r="2.1" fill="#68e651"/>
<circle cx="510.80" cy="458.30" r="2.1" fill="#68e651"/>
<circle cx="514.20" cy="455.10" r="2.1" fill="#68e651"/>
<circle cx="506.40" cy="470.10" r="2.1" fill="#68e651"/>
<circle cx="510.00" cy="480.20" r="2.1" fill="#68e651"/>
<circle cx="506.40" cy="483.30" r="2.1" fill="#68e651"/>
<circle cx="572.90" cy="333.40" r="2.1" fill="#449ae8"/>
<circle cx="572.90" cy="348.60" r="2.1" fill="#449ae8"/>
<circle cx="573.90" cy="361.10" r="2.1" fill="#449ae8"/>
<circle cx="568.50" cy="364.10" r="2.1" fill="#449ae8"/>
<circle cx="572.90" cy="365.50" r="2.1" fill="#449ae8"/>
<circle cx="577.40" cy="365.20" r="2.1" fill="#449ae8"/>
<circle cx="581.60" cy="363.70" r="2.1" fill="#449ae8"/>
<circle cx="565.30" cy="371.10" r="2.1" fill="#449ae8"/>
<circle cx="569.70" cy="371.80" r="2.1" fill="#449ae8"/>
<circle cx="576.10" cy="371.80" r="2.1" fill="#449ae8"/>
<circle cx="572.90" cy="374.90" r="2.1" fill="#449ae8"/>
<circle cx="568.80" cy="378.80" r="2.1" fill="#449ae8"/>
<circle cx="572.90" cy="381.00" r="2.1" fill="#449ae8"/>
<circle cx="577.00" cy="379.50" r="2.1" fill="#449ae8"/>
<circle cx="559.70" cy="383.20" r="2.1" fill="#449ae8"/>
<circle cx="564.10" cy="383.90" r="2.1" fill="#449ae8"/>
<circle cx="568.20" cy="385.40" r="2.1" fill="#449ae8"/>
<circle cx="572.60" cy="385.80" r="2.1" fill="#449ae8"/>
<circle cx="577.60" cy="386.90" r="2.1" fill="#449ae8"/>
<circle cx="580.90" cy="383.90" r="2.1" fill="#449ae8"/>
<circle cx="585.50" cy="383.90" r="2.1" fill="#449ae8"/>
<circle cx="556.80" cy="388.40" r="2.1" fill="#449ae8"/>
<circle cx="561.20" cy="388.90" r="2.1" fill="#449ae8"/>
<circle cx="565.30" cy="390.40" r="2.1" fill="#449ae8"/>
<circle cx="569.70" cy="390.90" r="2.1" fill="#449ae8"/>
<circle cx="574.30" cy="390.00" r="2.1" fill="#449ae8"/>
<circle cx="580.50" cy="390.60" r="2.1" fill="#449ae8"/>
<circle cx="584.60" cy="390.60" r="2.1" fill="#449ae8"/>
<circle cx="588.80" cy="388.60" r="2.1" fill="#449ae8"/>
<circle cx="593.00" cy="387.60" r="2.1" fill="#449ae8"/>
<circle cx="572.90" cy="393.90" r="2.1" fill="#449ae8"/>
<circle cx="577.40" cy="393.50" r="2.1" fill="#449ae8"/>
<circle cx="560.10" cy="396.00" r="2.1" fill="#449ae8"/>
<circle cx="564.30" cy="396.80" r="2.1" fill="#449ae8"/>
<circle cx="568.50" cy="398.10" r="2.1" fill="#449ae8"/>
<circle cx="572.90" cy="398.80" r="2.1" fill="#449ae8"/>
<circle cx="577.40" cy="398.30" r="2.1" fill="#449ae8"/>
<circle cx="581.60" cy="396.80" r="2.1" fill="#449ae8"/>
<circle cx="586.00" cy="396.30" r="2.1" fill="#449ae8"/>
<circle cx="557.40" cy="399.80" r="2.1" fill="#449ae8"/>
<circle cx="561.60" cy="401.20" r="2.1" fill="#449ae8"/>
<circle cx="566.00" cy="402.70" r="2.1" fill="#449ae8"/>
<circle cx="570.40" cy="402.70" r="2.1" fill="#449ae8"/>
<circle cx="576.40" cy="403.60" r="2.1" fill="#449ae8"/>
<circle cx="580.50" cy="402.10" r="2.1" fill="#449ae8"/>
<circle cx="584.90" cy="400.90" r="2.1" fill="#449ae8"/>
<circle cx="560.60" cy="405.80" r="2.1" fill="#449ae8"/>
<circle cx="564.70" cy="408.00" r="2.1" fill="#449ae8"/>
<circle cx="568.80" cy="409.10" r="2.1" fill="#449ae8"/>
<circle cx="572.90" cy="406.20" r="2.1" fill="#449ae8"/>
<circle cx="572.90" cy="410.80" r="2.1" fill="#449ae8"/>
<circle cx="577.00" cy="409.10" r="2.1" fill="#449ae8"/>
<circle cx="580.50" cy="406.50" r="2.1" fill="#449ae8"/>
<circle cx="584.90" cy="406.50" r="2.1" fill="#449ae8"/>
<circle cx="589.50" cy="405.80" r="2.1" fill="#449ae8"/>
<circle cx="568.80" cy="415.40" r="2.1" fill="#449ae8"/>
<circle cx="572.90" cy="417.00" r="2.1" fill="#449ae8"/>
<circle cx="577.20" cy="415.80" r="2.1" fill="#449ae8"/>
<circle cx="560.10" cy="418.50" r="2.1" fill="#449ae8"/>
<circle cx="564.40" cy="419.60" r="2.1" fill="#449ae8"/>
<circle cx="568.80" cy="420.00" r="2.1" fill="#449ae8"/>
<circle cx="572.90" cy="422.20" r="2.1" fill="#449ae8"/>
<circle cx="577.00" cy="420.80" r="2.1" fill="#449ae8"/>
<circle cx="581.10" cy="419.30" r="2.1" fill="#449ae8"/>
<circle cx="584.90" cy="416.70" r="2.1" fill="#449ae8"/>
<circle cx="589.50" cy="416.70" r="2.1" fill="#449ae8"/>
<circle cx="559.20" cy="424.00" r="2.1" fill="#449ae8"/>
<circle cx="563.00" cy="426.10" r="2.1" fill="#449ae8"/>
<circle cx="568.20" cy="426.60" r="2.1" fill="#449ae8"/>
<circle cx="572.90" cy="426.80" r="2.1" fill="#449ae8"/>
<circle cx="577.20" cy="425.70" r="2.1" fill="#449ae8"/>
<circle cx="583.70" cy="426.10" r="2.1" fill="#449ae8"/>
<circle cx="565.00" cy="430.50" r="2.1" fill="#449ae8"/>
<circle cx="569.30" cy="431.20" r="2.1" fill="#449ae8"/>
<circle cx="572.90" cy="433.80" r="2.1" fill="#449ae8"/>
<circle cx="576.70" cy="431.60" r="2.1" fill="#449ae8"/>
<circle cx="580.50" cy="429.20" r="2.1" fill="#449ae8"/>
<circle cx="564.70" cy="436.90" r="2.1" fill="#449ae8"/>
<circle cx="569.10" cy="437.50" r="2.1" fill="#449ae8"/>
<circle cx="572.90" cy="440.10" r="2.1" fill="#449ae8"/>
<circle cx="576.70" cy="438.00" r="2.1" fill="#449ae8"/>
<circle cx="580.50" cy="435.70" r="2.1" fill="#449ae8"/>
<circle cx="564.40" cy="441.90" r="2.1" fill="#449ae8"/>
<circle cx="568.80" cy="442.70" r="2.1" fill="#449ae8"/>
<circle cx="574.10" cy="444.30" r="2.1" fill="#449ae8"/>
<circle cx="578.50" cy="443.90" r="2.1" fill="#449ae8"/>
<circle cx="582.00" cy="440.80" r="2.1" fill="#449ae8"/>
<circle cx="570.40" cy="446.80" r="2.1" fill="#449ae8"/>
<circle cx="560.80" cy="449.50" r="2.1" fill="#449ae8"/>
<circle cx="564.70" cy="451.80" r="2.1" fill="#449ae8"/>
<circle cx="569.10" cy="452.40" r="2.1" fill="#449ae8"/>
<circle cx="572.90" cy="450.10" r="2.1" fill="#449ae8"/>
<circle cx="572.90" cy="454.90" r="2.1" fill="#449ae8"/>
<circle cx="577.00" cy="453.10" r="2.1" fill="#449ae8"/>
<circle cx="580.70" cy="450.70" r="2.1" fill="#449ae8"/>
<circle cx="584.60" cy="448.80" r="2.1" fill="#449ae8"/>
<circle cx="574.30" cy="459.10" r="2.1" fill="#449ae8"/>
<circle cx="578.70" cy="458.20" r="2.1" fill="#449ae8"/>
<circle cx="568.50" cy="462.10" r="2.1" fill="#449ae8"/>
<circle cx="572.90" cy="463.50" r="2.1" fill="#449ae8"/>
<circle cx="577.20" cy="462.80" r="2.1" fill="#449ae8"/>
<circle cx="572.90" cy="468.70" r="2.1" fill="#449ae8"/>
<circle cx="572.90" cy="474.00" r="2.1" fill="#449ae8"/>
<circle cx="572.90" cy="496.10" r="2.1" fill="#449ae8"/>
<circle cx="639.40" cy="352.50" r="2.1" fill="#6ef8ec"/>
<circle cx="639.40" cy="377.20" r="2.1" fill="#6ef8ec"/>
<circle cx="639.40" cy="382.00" r="2.1" fill="#6ef8ec"/>
<rect x="396.5" y="310.5" width="286.70000000000005" height="192.7" fill="none" stroke="#555" stroke-width="1"/>
<line x1="390.50" y1="500.90" x2="396.50" y2="500.90" stroke="#555" stroke-width="1" stroke-linecap="butt"/>
<text x="383.00" y="500.90" font-size="12.4" text-anchor="middle" transform="rotate(-90 383.0 500.9)" fill="#000" font-family='"Liberation Sans", sans-serif'>−2</text>
<line x1="390.50" y1="457.95" x2="396.50" y2="457.95" stroke="#555" stroke-width="1" stroke-linecap="butt"/>
<g transform="rotate(-90 383.0 457.95)">
<text x="375.93" y="457.95" font-size="12.4" text-anchor="start" fill="#000" font-family='"Liberation Sans", sans-serif'>−</text>
<path transform="translate(383.17 457.95) scale(0.00605 -0.00605)" d="M763 0H583V1120Q518 1060 412 1000Q307 940 223 910V1080Q374 1150 487 1250Q600 1350 647 1440H763Z" fill="#000"/>
</g>
<line x1="390.50" y1="415.00" x2="396.50" y2="415.00" stroke="#555" stroke-width="1" stroke-linecap="butt"/>
<text x="383.00" y="415.00" font-size="12.4" text-anchor="middle" transform="rotate(-90 383.0 415.0)" fill="#000" font-family='"Liberation Sans", sans-serif'>0</text>
<line x1="390.50" y1="372.05" x2="396.50" y2="372.05" stroke="#555" stroke-width="1" stroke-linecap="butt"/>
<g transform="rotate(-90 383.0 372.05)">
<path transform="translate(379.55 372.05) scale(0.00605 -0.00605)" d="M763 0H583V1120Q518 1060 412 1000Q307 940 223 910V1080Q374 1150 487 1250Q600 1350 647 1440H763Z" fill="#000"/>
</g>
<line x1="390.50" y1="329.10" x2="396.50" y2="329.10" stroke="#555" stroke-width="1" stroke-linecap="butt"/>
<text x="383.00" y="329.10" font-size="12.4" text-anchor="middle" transform="rotate(-90 383.0 329.1)" fill="#000" font-family='"Liberation Sans", sans-serif'>2</text>
<line x1="439.90" y1="503.20" x2="439.90" y2="509.20" stroke="#555" stroke-width="1" stroke-linecap="butt"/>
<text x="439.90" y="523.80" font-size="12.4" text-anchor="middle" fill="#000" font-family='"Liberation Sans", sans-serif'>0</text>
<line x1="506.50" y1="503.20" x2="506.50" y2="509.20" stroke="#555" stroke-width="1" stroke-linecap="butt"/>
<g>
<path transform="translate(503.05 523.80) scale(0.00605 -0.00605)" d="M763 0H583V1120Q518 1060 412 1000Q307 940 223 910V1080Q374 1150 487 1250Q600 1350 647 1440H763Z" fill="#000"/>
</g>
<line x1="572.90" y1="503.20" x2="572.90" y2="509.20" stroke="#555" stroke-width="1" stroke-linecap="butt"/>
<text x="572.90" y="523.80" font-size="12.4" text-anchor="middle" fill="#000" font-family='"Liberation Sans", sans-serif'>2</text>
<line x1="639.40" y1="503.20" x2="639.40" y2="509.20" stroke="#555" stroke-width="1" stroke-linecap="butt"/>
<text x="639.40" y="523.80" font-size="12.4" text-anchor="middle" fill="#000" font-family='"Liberation Sans", sans-serif'>3</text>
<text x="360.40" y="406.50" font-size="12.9" text-anchor="middle" transform="rotate(-90 360.4 406.5)" fill="#000" font-family='"Liberation Sans", sans-serif'>Riskscore value</text>
<text x="539.20" y="544.80" font-size="12.9" text-anchor="middle" fill="#000" font-family='"Liberation Sans", sans-serif'>N</text>
<g>
<text x="293.00" y="591.00" font-size="15.8" text-anchor="start" font-weight="bold" fill="#000" font-family='"Liberation Sans", sans-serif'>riskscore (p=</text>
<path transform="translate(391.81 591.00) scale(0.00771 -0.00771)" d="M796 0H515V1040Q361 900 152 830V1080Q262 1115 391 1215Q520 1315 568 1440H796Z" fill="#000"/>
<text x="400.59" y="591.00" font-size="15.8" text-anchor="start" font-weight="bold" fill="#000" font-family='"Liberation Sans", sans-serif'>.425e−</text>
<path transform="translate(449.36 591.00) scale(0.00771 -0.00771)" d="M796 0H515V1040Q361 900 152 830V1080Q262 1115 391 1215Q520 1315 568 1440H796Z" fill="#000"/>
<text x="458.15" y="591.00" font-size="15.8" text-anchor="start" font-weight="bold" fill="#000" font-family='"Liberation Sans", sans-serif'>7)</text>
</g>
<line x1="302.60" y1="722.30" x2="302.60" y2="669.30" stroke="#5a5a5a" stroke-width="1" stroke-dasharray="2,2.4" stroke-linecap="butt"/>
<line x1="302.60" y1="770.20" x2="302.60" y2="828.30" stroke="#5a5a5a" stroke-width="1" stroke-dasharray="2,2.4" stroke-linecap="butt"/>
<line x1="270.60" y1="669.50" x2="334.60" y2="669.50" stroke="#444" stroke-width="1" stroke-linecap="butt"/>
<line x1="270.60" y1="828.50" x2="334.60" y2="828.50" stroke="#444" stroke-width="1" stroke-linecap="butt"/>
<rect x="238.60" y="722.30" width="128.00" height="47.90" fill="#d3d3d3" stroke="#555" stroke-width="1"/>
<line x1="238.60" y1="744.80" x2="366.60" y2="744.80" stroke="#000" stroke-width="2.2" stroke-linecap="butt"/>
<line x1="462.60" y1="688.30" x2="462.60" y2="633.10" stroke="#5a5a5a" stroke-width="1" stroke-dasharray="2,2.4" stroke-linecap="butt"/>
<line x1="462.60" y1="725.50" x2="462.60" y2="777.00" stroke="#5a5a5a" stroke-width="1" stroke-dasharray="2,2.4" stroke-linecap="butt"/>
<line x1="430.60" y1="633.50" x2="494.60" y2="633.50" stroke="#444" stroke-width="1" stroke-linecap="butt"/>
<line x1="430.60" y1="777.50" x2="494.60" y2="777.50" stroke="#444" stroke-width="1" stroke-linecap="butt"/>
<rect x="398.60" y="688.30" width="128.00" height="37.20" fill="#d3d3d3" stroke="#555" stroke-width="1"/>
<line x1="398.60" y1="705.40" x2="526.60" y2="705.40" stroke="#000" stroke-width="2.2" stroke-linecap="butt"/>
<circle cx="301.50" cy="669.40" r="2.55" fill="#0000ff"/>
<circle cx="306.40" cy="671.90" r="2.55" fill="#0000ff"/>
<circle cx="302.60" cy="675.70" r="2.55" fill="#0000ff"/>
<circle cx="298.10" cy="686.30" r="2.55" fill="#0000ff"/>
<circle cx="302.80" cy="688.80" r="2.55" fill="#0000ff"/>
<circle cx="298.40" cy="691.80" r="2.55" fill="#0000ff"/>
<circle cx="307.50" cy="692.70" r="2.55" fill="#0000ff"/>
<circle cx="302.60" cy="695.40" r="2.55" fill="#0000ff"/>
<circle cx="296.20" cy="698.70" r="2.55" fill="#0000ff"/>
<circle cx="300.90" cy="701.20" r="2.55" fill="#0000ff"/>
<circle cx="307.20" cy="700.90" r="2.55" fill="#0000ff"/>
<circle cx="284.20" cy="703.80" r="2.55" fill="#0000ff"/>
<circle cx="289.10" cy="706.00" r="2.55" fill="#0000ff"/>
<circle cx="294.00" cy="707.10" r="2.55" fill="#0000ff"/>
<circle cx="299.50" cy="707.80" r="2.55" fill="#0000ff"/>
<circle cx="304.20" cy="705.60" r="2.55" fill="#0000ff"/>
<circle cx="308.80" cy="708.90" r="2.55" fill="#0000ff"/>
<circle cx="313.70" cy="706.70" r="2.55" fill="#0000ff"/>
<circle cx="318.90" cy="705.20" r="2.55" fill="#0000ff"/>
<circle cx="323.90" cy="703.60" r="2.55" fill="#0000ff"/>
<circle cx="282.30" cy="710.40" r="2.55" fill="#0000ff"/>
<circle cx="287.10" cy="712.90" r="2.55" fill="#0000ff"/>
<circle cx="292.40" cy="713.20" r="2.55" fill="#0000ff"/>
<circle cx="297.60" cy="713.70" r="2.55" fill="#0000ff"/>
<circle cx="303.90" cy="710.70" r="2.55" fill="#0000ff"/>
<circle cx="302.80" cy="715.70" r="2.55" fill="#0000ff"/>
<circle cx="307.90" cy="714.80" r="2.55" fill="#0000ff"/>
<circle cx="313.00" cy="712.90" r="2.55" fill="#0000ff"/>
<circle cx="318.10" cy="712.60" r="2.55" fill="#0000ff"/>
<circle cx="323.00" cy="710.00" r="2.55" fill="#0000ff"/>
<circle cx="279.00" cy="717.80" r="2.55" fill="#0000ff"/>
<circle cx="284.20" cy="718.40" r="2.55" fill="#0000ff"/>
<circle cx="288.50" cy="721.60" r="2.55" fill="#0000ff"/>
<circle cx="294.30" cy="719.40" r="2.55" fill="#0000ff"/>
<circle cx="299.80" cy="720.50" r="2.55" fill="#0000ff"/>
<circle cx="307.90" cy="720.20" r="2.55" fill="#0000ff"/>
<circle cx="313.20" cy="719.70" r="2.55" fill="#0000ff"/>
<circle cx="318.70" cy="719.10" r="2.55" fill="#0000ff"/>
<circle cx="323.90" cy="718.00" r="2.55" fill="#0000ff"/>
<circle cx="292.90" cy="724.90" r="2.55" fill="#0000ff"/>
<circle cx="297.80" cy="726.20" r="2.55" fill="#0000ff"/>
<circle cx="303.50" cy="723.80" r="2.55" fill="#0000ff"/>
<circle cx="312.10" cy="725.40" r="2.55" fill="#0000ff"/>
<circle cx="317.60" cy="724.60" r="2.55" fill="#0000ff"/>
<circle cx="279.20" cy="729.00" r="2.55" fill="#0000ff"/>
<circle cx="284.50" cy="730.10" r="2.55" fill="#0000ff"/>
<circle cx="289.60" cy="731.20" r="2.55" fill="#0000ff"/>
<circle cx="294.80" cy="731.70" r="2.55" fill="#0000ff"/>
<circle cx="302.80" cy="729.00" r="2.55" fill="#0000ff"/>
<circle cx="307.90" cy="728.40" r="2.55" fill="#0000ff"/>
<circle cx="314.80" cy="731.50" r="2.55" fill="#0000ff"/>
<circle cx="319.70" cy="730.60" r="2.55" fill="#0000ff"/>
<circle cx="325.00" cy="729.00" r="2.55" fill="#0000ff"/>
<circle cx="330.10" cy="727.30" r="2.55" fill="#0000ff"/>
<circle cx="271.60" cy="733.40" r="2.55" fill="#0000ff"/>
<circle cx="276.80" cy="735.20" r="2.55" fill="#0000ff"/>
<circle cx="282.00" cy="736.30" r="2.55" fill="#0000ff"/>
<circle cx="286.90" cy="737.20" r="2.55" fill="#0000ff"/>
<circle cx="292.20" cy="738.10" r="2.55" fill="#0000ff"/>
<circle cx="297.30" cy="738.80" r="2.55" fill="#0000ff"/>
<circle cx="299.80" cy="733.90" r="2.55" fill="#0000ff"/>
<circle cx="304.60" cy="735.20" r="2.55" fill="#0000ff"/>
<circle cx="309.70" cy="733.40" r="2.55" fill="#0000ff"/>
<circle cx="302.80" cy="740.20" r="2.55" fill="#0000ff"/>
<circle cx="307.90" cy="739.40" r="2.55" fill="#0000ff"/>
<circle cx="313.00" cy="738.10" r="2.55" fill="#0000ff"/>
<circle cx="318.10" cy="737.20" r="2.55" fill="#0000ff"/>
<circle cx="323.30" cy="736.60" r="2.55" fill="#0000ff"/>
<circle cx="328.50" cy="735.90" r="2.55" fill="#0000ff"/>
<circle cx="333.40" cy="733.40" r="2.55" fill="#0000ff"/>
<circle cx="281.40" cy="742.90" r="2.55" fill="#0000ff"/>
<circle cx="286.90" cy="743.50" r="2.55" fill="#0000ff"/>
<circle cx="291.80" cy="744.60" r="2.55" fill="#0000ff"/>
<circle cx="297.30" cy="745.10" r="2.55" fill="#0000ff"/>
<circle cx="302.80" cy="745.90" r="2.55" fill="#0000ff"/>
<circle cx="307.70" cy="745.10" r="2.55" fill="#0000ff"/>
<circle cx="313.00" cy="744.30" r="2.55" fill="#0000ff"/>
<circle cx="318.40" cy="744.00" r="2.55" fill="#0000ff"/>
<circle cx="323.90" cy="744.00" r="2.55" fill="#0000ff"/>
<circle cx="328.50" cy="741.80" r="2.55" fill="#0000ff"/>
<circle cx="283.60" cy="748.10" r="2.55" fill="#0000ff"/>
<circle cx="288.90" cy="750.10" r="2.55" fill="#0000ff"/>
<circle cx="294.00" cy="751.60" r="2.55" fill="#0000ff"/>
<circle cx="299.20" cy="751.60" r="2.55" fill="#0000ff"/>
<circle cx="306.40" cy="751.40" r="2.55" fill="#0000ff"/>
<circle cx="311.90" cy="750.50" r="2.55" fill="#0000ff"/>
<circle cx="316.70" cy="749.40" r="2.55" fill="#0000ff"/>
<circle cx="272.10" cy="753.40" r="2.55" fill="#0000ff"/>
<circle cx="277.30" cy="754.50" r="2.55" fill="#0000ff"/>
<circle cx="282.50" cy="755.60" r="2.55" fill="#0000ff"/>
<circle cx="287.80" cy="756.30" r="2.55" fill="#0000ff"/>
<circle cx="292.90" cy="757.40" r="2.55" fill="#0000ff"/>
<circle cx="297.80" cy="758.20" r="2.55" fill="#0000ff"/>
<circle cx="302.80" cy="755.80" r="2.55" fill="#0000ff"/>
<circle cx="307.20" cy="758.90" r="2.55" fill="#0000ff"/>
<circle cx="312.60" cy="756.90" r="2.55" fill="#0000ff"/>
<circle cx="317.80" cy="756.00" r="2.55" fill="#0000ff"/>
<circle cx="323.00" cy="755.60" r="2.55" fill="#0000ff"/>
<circle cx="328.30" cy="754.20" r="2.55" fill="#0000ff"/>
<circle cx="302.80" cy="761.10" r="2.55" fill="#0000ff"/>
<circle cx="269.40" cy="762.40" r="2.55" fill="#0000ff"/>
<circle cx="274.60" cy="762.90" r="2.55" fill="#0000ff"/>
<circle cx="280.10" cy="763.20" r="2.55" fill="#0000ff"/>
<circle cx="285.30" cy="764.00" r="2.55" fill="#0000ff"/>
<circle cx="294.00" cy="765.10" r="2.55" fill="#0000ff"/>
<circle cx="299.80" cy="765.40" r="2.55" fill="#0000ff"/>
<circle cx="306.40" cy="765.90" r="2.55" fill="#0000ff"/>
<circle cx="312.60" cy="764.80" r="2.55" fill="#0000ff"/>
<circle cx="319.50" cy="764.30" r="2.55" fill="#0000ff"/>
<circle cx="325.00" cy="763.70" r="2.55" fill="#0000ff"/>
<circle cx="330.50" cy="762.90" r="2.55" fill="#0000ff"/>
<circle cx="335.60" cy="762.40" r="2.55" fill="#0000ff"/>
<circle cx="340.50" cy="761.90" r="2.55" fill="#0000ff"/>
<circle cx="287.40" cy="768.80" r="2.55" fill="#0000ff"/>
<circle cx="292.40" cy="770.50" r="2.55" fill="#0000ff"/>
<circle cx="297.30" cy="772.40" r="2.55" fill="#0000ff"/>
<circle cx="302.40" cy="769.90" r="2.55" fill="#0000ff"/>
<circle cx="307.20" cy="772.40" r="2.55" fill="#0000ff"/>
<circle cx="312.10" cy="769.90" r="2.55" fill="#0000ff"/>
<circle cx="317.30" cy="769.10" r="2.55" fill="#0000ff"/>
<circle cx="287.80" cy="774.90" r="2.55" fill="#0000ff"/>
<circle cx="292.90" cy="776.80" r="2.55" fill="#0000ff"/>
<circle cx="297.60" cy="778.60" r="2.55" fill="#0000ff"/>
<circle cx="302.00" cy="775.40" r="2.55" fill="#0000ff"/>
<circle cx="306.40" cy="777.90" r="2.55" fill="#0000ff"/>
<circle cx="314.80" cy="775.40" r="2.55" fill="#0000ff"/>
<circle cx="320.00" cy="773.80" r="2.55" fill="#0000ff"/>
<circle cx="276.50" cy="780.40" r="2.55" fill="#0000ff"/>
<circle cx="282.00" cy="781.20" r="2.55" fill="#0000ff"/>
<circle cx="286.90" cy="783.00" r="2.55" fill="#0000ff"/>
<circle cx="292.20" cy="783.70" r="2.55" fill="#0000ff"/>
<circle cx="298.10" cy="784.10" r="2.55" fill="#0000ff"/>
<circle cx="302.80" cy="781.20" r="2.55" fill="#0000ff"/>
<circle cx="311.50" cy="779.30" r="2.55" fill="#0000ff"/>
<circle cx="308.80" cy="784.10" r="2.55" fill="#0000ff"/>
<circle cx="315.90" cy="783.00" r="2.55" fill="#0000ff"/>
<circle cx="321.40" cy="783.00" r="2.55" fill="#0000ff"/>
<circle cx="326.30" cy="780.60" r="2.55" fill="#0000ff"/>
<circle cx="294.30" cy="788.30" r="2.55" fill="#0000ff"/>
<circle cx="299.80" cy="789.20" r="2.55" fill="#0000ff"/>
<circle cx="304.20" cy="786.30" r="2.55" fill="#0000ff"/>
<circle cx="314.30" cy="788.30" r="2.55" fill="#0000ff"/>
<circle cx="304.20" cy="791.80" r="2.55" fill="#0000ff"/>
<circle cx="309.90" cy="791.60" r="2.55" fill="#0000ff"/>
<circle cx="297.30" cy="795.70" r="2.55" fill="#0000ff"/>
<circle cx="302.80" cy="797.00" r="2.55" fill="#0000ff"/>
<circle cx="307.90" cy="796.80" r="2.55" fill="#0000ff"/>
<circle cx="306.40" cy="802.00" r="2.55" fill="#0000ff"/>
<circle cx="302.40" cy="805.60" r="2.55" fill="#0000ff"/>
<circle cx="306.60" cy="809.60" r="2.55" fill="#0000ff"/>
<circle cx="297.00" cy="812.90" r="2.55" fill="#0000ff"/>
<circle cx="302.80" cy="812.90" r="2.55" fill="#0000ff"/>
<circle cx="302.40" cy="818.70" r="2.55" fill="#0000ff"/>
<circle cx="307.90" cy="817.30" r="2.55" fill="#0000ff"/>
<circle cx="302.40" cy="828.20" r="2.55" fill="#0000ff"/>
<circle cx="462.20" cy="635.00" r="2.55" fill="#ff0000"/>
<circle cx="467.30" cy="633.10" r="2.55" fill="#ff0000"/>
<circle cx="460.20" cy="651.30" r="2.55" fill="#ff0000"/>
<circle cx="462.20" cy="656.10" r="2.55" fill="#ff0000"/>
<circle cx="467.60" cy="654.80" r="2.55" fill="#ff0000"/>
<circle cx="452.00" cy="663.60" r="2.55" fill="#ff0000"/>
<circle cx="457.10" cy="665.60" r="2.55" fill="#ff0000"/>
<circle cx="462.20" cy="666.60" r="2.55" fill="#ff0000"/>
<circle cx="468.70" cy="666.00" r="2.55" fill="#ff0000"/>
<circle cx="472.80" cy="662.50" r="2.55" fill="#ff0000"/>
<circle cx="457.10" cy="671.40" r="2.55" fill="#ff0000"/>
<circle cx="462.20" cy="672.10" r="2.55" fill="#ff0000"/>
<circle cx="467.60" cy="671.40" r="2.55" fill="#ff0000"/>
<circle cx="472.80" cy="669.90" r="2.55" fill="#ff0000"/>
<circle cx="452.00" cy="677.00" r="2.55" fill="#ff0000"/>
<circle cx="457.10" cy="678.30" r="2.55" fill="#ff0000"/>
<circle cx="462.20" cy="679.30" r="2.55" fill="#ff0000"/>
<circle cx="467.60" cy="679.10" r="2.55" fill="#ff0000"/>
<circle cx="472.80" cy="677.60" r="2.55" fill="#ff0000"/>
<circle cx="447.90" cy="682.70" r="2.55" fill="#ff0000"/>
<circle cx="453.00" cy="684.20" r="2.55" fill="#ff0000"/>
<circle cx="458.10" cy="685.20" r="2.55" fill="#ff0000"/>
<circle cx="466.60" cy="685.40" r="2.55" fill="#ff0000"/>
<circle cx="471.70" cy="683.70" r="2.55" fill="#ff0000"/>
<circle cx="440.10" cy="686.90" r="2.55" fill="#ff0000"/>
<circle cx="445.40" cy="688.00" r="2.55" fill="#ff0000"/>
<circle cx="462.20" cy="688.70" r="2.55" fill="#ff0000"/>
<circle cx="478.60" cy="688.00" r="2.55" fill="#ff0000"/>
<circle cx="483.70" cy="686.90" r="2.55" fill="#ff0000"/>
<circle cx="449.50" cy="691.00" r="2.55" fill="#ff0000"/>
<circle cx="454.80" cy="691.00" r="2.55" fill="#ff0000"/>
<circle cx="468.70" cy="691.00" r="2.55" fill="#ff0000"/>
<circle cx="473.80" cy="690.40" r="2.55" fill="#ff0000"/>
<circle cx="440.80" cy="693.50" r="2.55" fill="#ff0000"/>
<circle cx="446.20" cy="695.30" r="2.55" fill="#ff0000"/>
<circle cx="451.30" cy="696.10" r="2.55" fill="#ff0000"/>
<circle cx="459.20" cy="693.50" r="2.55" fill="#ff0000"/>
<circle cx="464.60" cy="695.10" r="2.55" fill="#ff0000"/>
<circle cx="469.90" cy="696.90" r="2.55" fill="#ff0000"/>
<circle cx="475.00" cy="696.10" r="2.55" fill="#ff0000"/>
<circle cx="480.10" cy="694.10" r="2.55" fill="#ff0000"/>
<circle cx="485.20" cy="693.10" r="2.55" fill="#ff0000"/>
<circle cx="436.70" cy="697.90" r="2.55" fill="#ff0000"/>
<circle cx="441.80" cy="699.60" r="2.55" fill="#ff0000"/>
<circle cx="446.90" cy="701.50" r="2.55" fill="#ff0000"/>
<circle cx="452.00" cy="701.70" r="2.55" fill="#ff0000"/>
<circle cx="456.10" cy="698.20" r="2.55" fill="#ff0000"/>
<circle cx="461.20" cy="699.20" r="2.55" fill="#ff0000"/>
<circle cx="466.30" cy="700.90" r="2.55" fill="#ff0000"/>
<circle cx="471.70" cy="702.00" r="2.55" fill="#ff0000"/>
<circle cx="476.80" cy="701.70" r="2.55" fill="#ff0000"/>
<circle cx="482.20" cy="700.60" r="2.55" fill="#ff0000"/>
<circle cx="487.50" cy="699.40" r="2.55" fill="#ff0000"/>
<circle cx="492.60" cy="697.40" r="2.55" fill="#ff0000"/>
<circle cx="435.70" cy="705.00" r="2.55" fill="#ff0000"/>
<circle cx="440.80" cy="705.50" r="2.55" fill="#ff0000"/>
<circle cx="445.90" cy="707.80" r="2.55" fill="#ff0000"/>
<circle cx="451.00" cy="709.10" r="2.55" fill="#ff0000"/>
<circle cx="456.10" cy="709.40" r="2.55" fill="#ff0000"/>
<circle cx="457.10" cy="703.70" r="2.55" fill="#ff0000"/>
<circle cx="462.20" cy="704.50" r="2.55" fill="#ff0000"/>
<circle cx="461.70" cy="709.80" r="2.55" fill="#ff0000"/>
<circle cx="466.80" cy="711.50" r="2.55" fill="#ff0000"/>
<circle cx="468.70" cy="706.80" r="2.55" fill="#ff0000"/>
<circle cx="471.90" cy="711.20" r="2.55" fill="#ff0000"/>
<circle cx="476.50" cy="708.10" r="2.55" fill="#ff0000"/>
<circle cx="481.10" cy="706.10" r="2.55" fill="#ff0000"/>
<circle cx="486.20" cy="705.30" r="2.55" fill="#ff0000"/>
<circle cx="453.00" cy="714.70" r="2.55" fill="#ff0000"/>
<circle cx="458.10" cy="714.70" r="2.55" fill="#ff0000"/>
<circle cx="463.60" cy="715.80" r="2.55" fill="#ff0000"/>
<circle cx="442.10" cy="715.60" r="2.55" fill="#ff0000"/>
<circle cx="447.20" cy="717.30" r="2.55" fill="#ff0000"/>
<circle cx="451.70" cy="719.90" r="2.55" fill="#ff0000"/>
<circle cx="457.10" cy="719.90" r="2.55" fill="#ff0000"/>
<circle cx="462.20" cy="720.90" r="2.55" fill="#ff0000"/>
<circle cx="467.60" cy="720.10" r="2.55" fill="#ff0000"/>
<circle cx="472.10" cy="717.60" r="2.55" fill="#ff0000"/>
<circle cx="477.30" cy="716.00" r="2.55" fill="#ff0000"/>
<circle cx="482.70" cy="716.30" r="2.55" fill="#ff0000"/>
<circle cx="487.80" cy="713.90" r="2.55" fill="#ff0000"/>
<circle cx="436.40" cy="721.90" r="2.55" fill="#ff0000"/>
<circle cx="441.80" cy="722.70" r="2.55" fill="#ff0000"/>
<circle cx="446.90" cy="723.90" r="2.55" fill="#ff0000"/>
<circle cx="451.70" cy="725.20" r="2.55" fill="#ff0000"/>
<circle cx="457.10" cy="726.20" r="2.55" fill="#ff0000"/>
<circle cx="462.20" cy="727.20" r="2.55" fill="#ff0000"/>
<circle cx="467.60" cy="726.20" r="2.55" fill="#ff0000"/>
<circle cx="472.80" cy="724.80" r="2.55" fill="#ff0000"/>
<circle cx="477.90" cy="723.90" r="2.55" fill="#ff0000"/>
<circle cx="483.00" cy="722.40" r="2.55" fill="#ff0000"/>
<circle cx="488.30" cy="722.10" r="2.55" fill="#ff0000"/>
<circle cx="462.20" cy="732.90" r="2.55" fill="#ff0000"/>
<circle cx="467.60" cy="732.10" r="2.55" fill="#ff0000"/>
<circle cx="452.00" cy="737.40" r="2.55" fill="#ff0000"/>
<circle cx="457.10" cy="737.40" r="2.55" fill="#ff0000"/>
<circle cx="462.20" cy="739.80" r="2.55" fill="#ff0000"/>
<circle cx="467.60" cy="738.00" r="2.55" fill="#ff0000"/>
<circle cx="450.30" cy="743.50" r="2.55" fill="#ff0000"/>
<circle cx="462.70" cy="744.90" r="2.55" fill="#ff0000"/>
<circle cx="468.10" cy="744.40" r="2.55" fill="#ff0000"/>
<circle cx="473.50" cy="743.80" r="2.55" fill="#ff0000"/>
<circle cx="453.00" cy="747.90" r="2.55" fill="#ff0000"/>
<circle cx="458.50" cy="747.90" r="2.55" fill="#ff0000"/>
<circle cx="462.20" cy="752.00" r="2.55" fill="#ff0000"/>
<circle cx="467.60" cy="750.50" r="2.55" fill="#ff0000"/>
<circle cx="449.50" cy="758.10" r="2.55" fill="#ff0000"/>
<circle cx="454.80" cy="758.90" r="2.55" fill="#ff0000"/>
<circle cx="459.90" cy="760.90" r="2.55" fill="#ff0000"/>
<circle cx="466.30" cy="762.20" r="2.55" fill="#ff0000"/>
<circle cx="470.70" cy="758.90" r="2.55" fill="#ff0000"/>
<circle cx="462.20" cy="766.00" r="2.55" fill="#ff0000"/>
<circle cx="462.20" cy="771.70" r="2.55" fill="#ff0000"/>
<circle cx="457.10" cy="775.50" r="2.55" fill="#ff0000"/>
<circle cx="462.20" cy="777.60" r="2.55" fill="#ff0000"/>
<circle cx="467.30" cy="776.00" r="2.55" fill="#ff0000"/>
<circle cx="472.10" cy="773.20" r="2.55" fill="#ff0000"/>
<circle cx="462.20" cy="788.10" r="2.55" fill="#ff0000"/>
<circle cx="467.60" cy="787.80" r="2.55" fill="#ff0000"/>
<rect x="210.0" y="605.0" width="345.20000000000005" height="231.89999999999998" fill="none" stroke="#555" stroke-width="1"/>
<line x1="203.00" y1="834.41" x2="210.00" y2="834.41" stroke="#555" stroke-width="1" stroke-linecap="butt"/>
<text x="194.00" y="834.41" font-size="14.4" text-anchor="middle" transform="rotate(-90 194.0 834.41)" fill="#000" font-family='"Liberation Sans", sans-serif'>−2</text>
<line x1="203.00" y1="782.73" x2="210.00" y2="782.73" stroke="#555" stroke-width="1" stroke-linecap="butt"/>
<g transform="rotate(-90 194.0 782.7299999999999)">
<text x="185.79" y="782.73" font-size="14.4" text-anchor="start" fill="#000" font-family='"Liberation Sans", sans-serif'>−</text>
<path transform="translate(194.20 782.73) scale(0.00703 -0.00703)" d="M763 0H583V1120Q518 1060 412 1000Q307 940 223 910V1080Q374 1150 487 1250Q600 1350 647 1440H763Z" fill="#000"/>
</g>
<line x1="203.00" y1="731.05" x2="210.00" y2="731.05" stroke="#555" stroke-width="1" stroke-linecap="butt"/>
<text x="194.00" y="731.05" font-size="14.4" text-anchor="middle" transform="rotate(-90 194.0 731.05)" fill="#000" font-family='"Liberation Sans", sans-serif'>0</text>
<line x1="203.00" y1="679.37" x2="210.00" y2="679.37" stroke="#555" stroke-width="1" stroke-linecap="butt"/>
<g transform="rotate(-90 194.0 679.37)">
<path transform="translate(190.00 679.37) scale(0.00703 -0.00703)" d="M763 0H583V1120Q518 1060 412 1000Q307 940 223 910V1080Q374 1150 487 1250Q600 1350 647 1440H763Z" fill="#000"/>
</g>
<line x1="203.00" y1="627.69" x2="210.00" y2="627.69" stroke="#555" stroke-width="1" stroke-linecap="butt"/>
<text x="194.00" y="627.69" font-size="14.4" text-anchor="middle" transform="rotate(-90 194.0 627.6899999999999)" fill="#000" font-family='"Liberation Sans", sans-serif'>2</text>
<line x1="302.60" y1="836.90" x2="302.60" y2="843.90" stroke="#555" stroke-width="1" stroke-linecap="butt"/>
<text x="302.60" y="860.80" font-size="14.4" text-anchor="middle" fill="#000" font-family='"Liberation Sans", sans-serif'>Alive</text>
<line x1="462.60" y1="836.90" x2="462.60" y2="843.90" stroke="#555" stroke-width="1" stroke-linecap="butt"/>
<text x="462.60" y="860.80" font-size="14.4" text-anchor="middle" fill="#000" font-family='"Liberation Sans", sans-serif'>Dead</text>
<text x="166.80" y="720.90" font-size="15.6" text-anchor="middle" transform="rotate(-90 166.8 720.9)" fill="#000" font-family='"Liberation Sans", sans-serif'>Riskscore value</text>
<text x="382.60" y="886.00" font-size="15.6" text-anchor="middle" fill="#000" font-family='"Liberation Sans", sans-serif'>fustat</text>
</svg>
</body></html>
